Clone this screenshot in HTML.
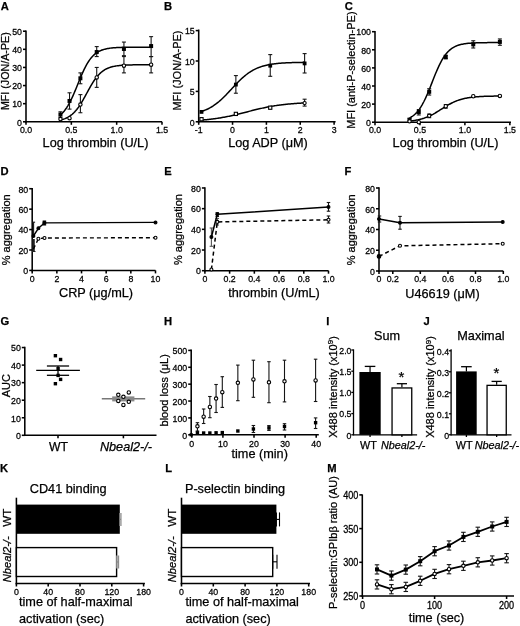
<!DOCTYPE html>
<html><head><meta charset="utf-8"><style>
html,body{margin:0;padding:0;background:#fff;}
svg{display:block;filter:blur(0.3px);}
text{font-family:"Liberation Sans", sans-serif;stroke:#000;stroke-width:0.25px;}
</style></head><body>
<svg width="520" height="626" viewBox="0 0 520 626" font-family='"Liberation Sans", sans-serif'>
<rect width="520" height="626" fill="#fff"/>
<text x="0.80" y="9.73" font-size="11.2" text-anchor="start" font-weight="bold" fill="#000">A</text>
<line x1="26.00" y1="30.62" x2="26.00" y2="122.58" stroke="#000" stroke-width="1.55" stroke-linecap="butt"/>
<line x1="23.00" y1="121.80" x2="26.00" y2="121.80" stroke="#000" stroke-width="1.55" stroke-linecap="butt"/>
<text transform="translate(22.00 125.58) scale(1 1.1)" font-size="8.8" text-anchor="end" stroke-width="0.12">0</text>
<line x1="23.00" y1="103.68" x2="26.00" y2="103.68" stroke="#000" stroke-width="1.55" stroke-linecap="butt"/>
<text transform="translate(22.00 107.46) scale(1 1.1)" font-size="8.8" text-anchor="end" stroke-width="0.12">10</text>
<line x1="23.00" y1="85.56" x2="26.00" y2="85.56" stroke="#000" stroke-width="1.55" stroke-linecap="butt"/>
<text transform="translate(22.00 89.34) scale(1 1.1)" font-size="8.8" text-anchor="end" stroke-width="0.12">20</text>
<line x1="23.00" y1="67.44" x2="26.00" y2="67.44" stroke="#000" stroke-width="1.55" stroke-linecap="butt"/>
<text transform="translate(22.00 71.22) scale(1 1.1)" font-size="8.8" text-anchor="end" stroke-width="0.12">30</text>
<line x1="23.00" y1="49.32" x2="26.00" y2="49.32" stroke="#000" stroke-width="1.55" stroke-linecap="butt"/>
<text transform="translate(22.00 53.10) scale(1 1.1)" font-size="8.8" text-anchor="end" stroke-width="0.12">40</text>
<line x1="23.00" y1="31.20" x2="26.00" y2="31.20" stroke="#000" stroke-width="1.55" stroke-linecap="butt"/>
<text transform="translate(22.00 34.98) scale(1 1.1)" font-size="8.8" text-anchor="end" stroke-width="0.12">50</text>
<line x1="25.23" y1="121.80" x2="162.00" y2="121.80" stroke="#000" stroke-width="1.55" stroke-linecap="butt"/>
<line x1="26.00" y1="121.80" x2="26.00" y2="124.80" stroke="#000" stroke-width="1.55" stroke-linecap="butt"/>
<text transform="translate(26.00 132.58) scale(1 1.1)" font-size="8.8" text-anchor="middle" stroke-width="0.12">0.0</text>
<line x1="71.34" y1="121.80" x2="71.34" y2="124.80" stroke="#000" stroke-width="1.55" stroke-linecap="butt"/>
<text transform="translate(71.34 132.58) scale(1 1.1)" font-size="8.8" text-anchor="middle" stroke-width="0.12">0.5</text>
<line x1="116.67" y1="121.80" x2="116.67" y2="124.80" stroke="#000" stroke-width="1.55" stroke-linecap="butt"/>
<text transform="translate(116.67 132.58) scale(1 1.1)" font-size="8.8" text-anchor="middle" stroke-width="0.12">1.0</text>
<line x1="162.00" y1="121.80" x2="162.00" y2="124.80" stroke="#000" stroke-width="1.55" stroke-linecap="butt"/>
<text transform="translate(162.00 132.58) scale(1 1.1)" font-size="8.8" text-anchor="middle" stroke-width="0.12">1.5</text>
<text x="95.50" y="146.50" font-size="12.7" text-anchor="middle" fill="#000">Log thrombin (U/L)</text>
<text x="9.30" y="71.20" font-size="10.7" text-anchor="middle" transform="rotate(-90 9.3 71.2)" fill="#000">MFI (JON/A-PE)</text>
<polyline points="60.45,114.84 61.36,114.05 62.27,113.18 63.17,112.22 64.08,111.17 64.99,110.04 65.89,108.80 66.80,107.46 67.71,106.03 68.61,104.48 69.52,102.84 70.43,101.10 71.34,99.26 72.24,97.33 73.15,95.32 74.06,93.24 74.96,91.11 75.87,88.92 76.78,86.70 77.68,84.47 78.59,82.24 79.50,80.02 80.40,77.84 81.31,75.70 82.22,73.62 83.12,71.61 84.03,69.69 84.94,67.85 85.84,66.10 86.75,64.46 87.66,62.92 88.56,61.48 89.47,60.15 90.38,58.91 91.28,57.77 92.19,56.73 93.10,55.77 94.00,54.90 94.91,54.10 95.82,53.39 96.72,52.73 97.63,52.15 98.54,51.61 99.44,51.14 100.35,50.71 101.26,50.32 102.16,49.98 103.07,49.67 103.98,49.39 104.88,49.15 105.79,48.93 106.70,48.73 107.60,48.55 108.51,48.40 109.42,48.26 110.32,48.13 111.23,48.02 112.14,47.93 113.04,47.84 113.95,47.76 114.86,47.69 115.76,47.63 116.67,47.58 117.58,47.53 118.48,47.49 119.39,47.45 120.30,47.41 121.20,47.38 122.11,47.36 123.02,47.33 123.92,47.31 124.83,47.29 125.74,47.28 126.64,47.26 127.55,47.25 128.46,47.24 129.36,47.23 130.27,47.22 131.18,47.21 132.08,47.20 132.99,47.20 133.90,47.19 134.80,47.19 135.71,47.18 136.62,47.18 137.52,47.17 138.43,47.17 139.34,47.17 140.24,47.16 141.15,47.16 142.06,47.16 142.96,47.16 143.87,47.16 144.78,47.16 145.68,47.15 146.59,47.15 147.50,47.15 148.40,47.15 149.31,47.15 150.22,47.15 151.12,47.15" fill="none" stroke="#000" stroke-width="1.5" stroke-linejoin="round"/>
<polyline points="60.45,119.97 61.36,119.75 62.27,119.50 63.17,119.23 64.08,118.92 64.99,118.58 65.89,118.21 66.80,117.79 67.71,117.33 68.61,116.82 69.52,116.26 70.43,115.65 71.34,114.97 72.24,114.24 73.15,113.43 74.06,112.56 74.96,111.61 75.87,110.59 76.78,109.50 77.68,108.33 78.59,107.08 79.50,105.76 80.40,104.37 81.31,102.92 82.22,101.41 83.12,99.84 84.03,98.24 84.94,96.60 85.84,94.93 86.75,93.26 87.66,91.59 88.56,89.92 89.47,88.29 90.38,86.68 91.28,85.12 92.19,83.60 93.10,82.15 94.00,80.76 94.91,79.44 95.82,78.20 96.72,77.03 97.63,75.93 98.54,74.91 99.44,73.96 100.35,73.09 101.26,72.29 102.16,71.55 103.07,70.87 103.98,70.26 104.88,69.70 105.79,69.19 106.70,68.73 107.60,68.31 108.51,67.94 109.42,67.60 110.32,67.29 111.23,67.02 112.14,66.78 113.04,66.56 113.95,66.36 114.86,66.18 115.76,66.02 116.67,65.88 117.58,65.76 118.48,65.64 119.39,65.54 120.30,65.45 121.20,65.37 122.11,65.30 123.02,65.24 123.92,65.18 124.83,65.13 125.74,65.09 126.64,65.05 127.55,65.01 128.46,64.98 129.36,64.95 130.27,64.92 131.18,64.90 132.08,64.88 132.99,64.86 133.90,64.85 134.80,64.83 135.71,64.82 136.62,64.81 137.52,64.80 138.43,64.79 139.34,64.78 140.24,64.78 141.15,64.77 142.06,64.77 142.96,64.76 143.87,64.76 144.78,64.75 145.68,64.75 146.59,64.75 147.50,64.74 148.40,64.74 149.31,64.74 150.22,64.74 151.12,64.74" fill="none" stroke="#000" stroke-width="1.5" stroke-linejoin="round"/>
<line x1="60.45" y1="117.27" x2="60.45" y2="111.83" stroke="#151515" stroke-width="1.1" stroke-linecap="butt"/>
<line x1="58.45" y1="117.27" x2="62.45" y2="117.27" stroke="#151515" stroke-width="1.1" stroke-linecap="butt"/>
<line x1="58.45" y1="111.83" x2="62.45" y2="111.83" stroke="#151515" stroke-width="1.1" stroke-linecap="butt"/>
<line x1="69.52" y1="109.12" x2="69.52" y2="92.81" stroke="#151515" stroke-width="1.1" stroke-linecap="butt"/>
<line x1="67.52" y1="109.12" x2="71.52" y2="109.12" stroke="#151515" stroke-width="1.1" stroke-linecap="butt"/>
<line x1="67.52" y1="92.81" x2="71.52" y2="92.81" stroke="#151515" stroke-width="1.1" stroke-linecap="butt"/>
<line x1="80.40" y1="83.75" x2="80.40" y2="72.88" stroke="#151515" stroke-width="1.1" stroke-linecap="butt"/>
<line x1="78.40" y1="83.75" x2="82.40" y2="83.75" stroke="#151515" stroke-width="1.1" stroke-linecap="butt"/>
<line x1="78.40" y1="72.88" x2="82.40" y2="72.88" stroke="#151515" stroke-width="1.1" stroke-linecap="butt"/>
<line x1="96.72" y1="56.57" x2="96.72" y2="46.60" stroke="#151515" stroke-width="1.1" stroke-linecap="butt"/>
<line x1="94.72" y1="56.57" x2="98.72" y2="56.57" stroke="#151515" stroke-width="1.1" stroke-linecap="butt"/>
<line x1="94.72" y1="46.60" x2="98.72" y2="46.60" stroke="#151515" stroke-width="1.1" stroke-linecap="butt"/>
<line x1="123.92" y1="55.66" x2="123.92" y2="42.07" stroke="#151515" stroke-width="1.1" stroke-linecap="butt"/>
<line x1="121.92" y1="55.66" x2="125.92" y2="55.66" stroke="#151515" stroke-width="1.1" stroke-linecap="butt"/>
<line x1="121.92" y1="42.07" x2="125.92" y2="42.07" stroke="#151515" stroke-width="1.1" stroke-linecap="butt"/>
<line x1="151.12" y1="56.57" x2="151.12" y2="36.64" stroke="#151515" stroke-width="1.1" stroke-linecap="butt"/>
<line x1="149.12" y1="56.57" x2="153.12" y2="56.57" stroke="#151515" stroke-width="1.1" stroke-linecap="butt"/>
<line x1="149.12" y1="36.64" x2="153.12" y2="36.64" stroke="#151515" stroke-width="1.1" stroke-linecap="butt"/>
<line x1="80.40" y1="112.74" x2="80.40" y2="94.62" stroke="#151515" stroke-width="1.1" stroke-linecap="butt"/>
<line x1="78.40" y1="112.74" x2="82.40" y2="112.74" stroke="#151515" stroke-width="1.1" stroke-linecap="butt"/>
<line x1="78.40" y1="94.62" x2="82.40" y2="94.62" stroke="#151515" stroke-width="1.1" stroke-linecap="butt"/>
<line x1="96.72" y1="87.37" x2="96.72" y2="67.44" stroke="#151515" stroke-width="1.1" stroke-linecap="butt"/>
<line x1="94.72" y1="87.37" x2="98.72" y2="87.37" stroke="#151515" stroke-width="1.1" stroke-linecap="butt"/>
<line x1="94.72" y1="67.44" x2="98.72" y2="67.44" stroke="#151515" stroke-width="1.1" stroke-linecap="butt"/>
<line x1="123.92" y1="72.88" x2="123.92" y2="56.57" stroke="#151515" stroke-width="1.1" stroke-linecap="butt"/>
<line x1="121.92" y1="72.88" x2="125.92" y2="72.88" stroke="#151515" stroke-width="1.1" stroke-linecap="butt"/>
<line x1="121.92" y1="56.57" x2="125.92" y2="56.57" stroke="#151515" stroke-width="1.1" stroke-linecap="butt"/>
<line x1="151.12" y1="72.88" x2="151.12" y2="56.57" stroke="#151515" stroke-width="1.1" stroke-linecap="butt"/>
<line x1="149.12" y1="72.88" x2="153.12" y2="72.88" stroke="#151515" stroke-width="1.1" stroke-linecap="butt"/>
<line x1="149.12" y1="56.57" x2="153.12" y2="56.57" stroke="#151515" stroke-width="1.1" stroke-linecap="butt"/>
<rect x="58.45" y="112.55" width="4.00" height="4.00" fill="#000"/>
<rect x="67.52" y="98.96" width="4.00" height="4.00" fill="#000"/>
<rect x="78.40" y="76.31" width="4.00" height="4.00" fill="#000"/>
<rect x="94.72" y="50.04" width="4.00" height="4.00" fill="#000"/>
<rect x="121.92" y="46.96" width="4.00" height="4.00" fill="#000"/>
<rect x="149.12" y="44.06" width="4.00" height="4.00" fill="#000"/>
<circle cx="60.45" cy="119.08" r="1.70" fill="#fff" stroke="#000" stroke-width="1.1"/>
<circle cx="69.52" cy="118.18" r="1.70" fill="#fff" stroke="#000" stroke-width="1.1"/>
<circle cx="80.40" cy="104.59" r="1.70" fill="#fff" stroke="#000" stroke-width="1.1"/>
<circle cx="96.72" cy="77.41" r="1.70" fill="#fff" stroke="#000" stroke-width="1.1"/>
<circle cx="123.92" cy="65.63" r="1.70" fill="#fff" stroke="#000" stroke-width="1.1"/>
<circle cx="151.12" cy="64.72" r="1.70" fill="#fff" stroke="#000" stroke-width="1.1"/>
<text x="164.00" y="9.83" font-size="11.2" text-anchor="start" font-weight="bold" fill="#000">B</text>
<line x1="198.70" y1="29.53" x2="198.70" y2="122.58" stroke="#000" stroke-width="1.55" stroke-linecap="butt"/>
<line x1="195.70" y1="121.80" x2="198.70" y2="121.80" stroke="#000" stroke-width="1.55" stroke-linecap="butt"/>
<text transform="translate(194.70 125.58) scale(1 1.1)" font-size="8.8" text-anchor="end" stroke-width="0.12">0</text>
<line x1="195.70" y1="91.40" x2="198.70" y2="91.40" stroke="#000" stroke-width="1.55" stroke-linecap="butt"/>
<text transform="translate(194.70 95.18) scale(1 1.1)" font-size="8.8" text-anchor="end" stroke-width="0.12">5</text>
<line x1="195.70" y1="61.00" x2="198.70" y2="61.00" stroke="#000" stroke-width="1.55" stroke-linecap="butt"/>
<text transform="translate(194.70 64.78) scale(1 1.1)" font-size="8.8" text-anchor="end" stroke-width="0.12">10</text>
<line x1="195.70" y1="30.60" x2="198.70" y2="30.60" stroke="#000" stroke-width="1.55" stroke-linecap="butt"/>
<text transform="translate(194.70 34.38) scale(1 1.1)" font-size="8.8" text-anchor="end" stroke-width="0.12">15</text>
<line x1="197.92" y1="121.80" x2="335.60" y2="121.80" stroke="#000" stroke-width="1.55" stroke-linecap="butt"/>
<line x1="198.70" y1="121.80" x2="198.70" y2="124.80" stroke="#000" stroke-width="1.55" stroke-linecap="butt"/>
<text transform="translate(198.70 132.58) scale(1 1.1)" font-size="8.8" text-anchor="middle" stroke-width="0.12">-1</text>
<line x1="232.55" y1="121.80" x2="232.55" y2="124.80" stroke="#000" stroke-width="1.55" stroke-linecap="butt"/>
<text transform="translate(232.55 132.58) scale(1 1.1)" font-size="8.8" text-anchor="middle" stroke-width="0.12">0</text>
<line x1="266.40" y1="121.80" x2="266.40" y2="124.80" stroke="#000" stroke-width="1.55" stroke-linecap="butt"/>
<text transform="translate(266.40 132.58) scale(1 1.1)" font-size="8.8" text-anchor="middle" stroke-width="0.12">1</text>
<line x1="300.25" y1="121.80" x2="300.25" y2="124.80" stroke="#000" stroke-width="1.55" stroke-linecap="butt"/>
<text transform="translate(300.25 132.58) scale(1 1.1)" font-size="8.8" text-anchor="middle" stroke-width="0.12">2</text>
<line x1="334.10" y1="121.80" x2="334.10" y2="124.80" stroke="#000" stroke-width="1.55" stroke-linecap="butt"/>
<text transform="translate(334.10 132.58) scale(1 1.1)" font-size="8.8" text-anchor="middle" stroke-width="0.12">3</text>
<text x="268.00" y="146.50" font-size="12.7" text-anchor="middle" fill="#000">Log ADP (μM)</text>
<text x="181.20" y="70.50" font-size="11.0" text-anchor="middle" transform="rotate(-90 181.2 70.5)" fill="#000">MFI (JON/A-PE)</text>
<polyline points="201.50,111.42 202.53,111.08 203.56,110.71 204.59,110.32 205.62,109.90 206.66,109.45 207.69,108.98 208.72,108.47 209.75,107.93 210.78,107.35 211.81,106.75 212.84,106.11 213.87,105.43 214.90,104.72 215.94,103.97 216.97,103.18 218.00,102.36 219.03,101.51 220.06,100.62 221.09,99.70 222.12,98.74 223.15,97.76 224.18,96.75 225.22,95.71 226.25,94.66 227.28,93.58 228.31,92.49 229.34,91.38 230.37,90.27 231.40,89.15 232.43,88.04 233.46,86.92 234.50,85.82 235.53,84.72 236.56,83.64 237.59,82.57 238.62,81.53 239.65,80.51 240.68,79.52 241.71,78.55 242.74,77.62 243.78,76.72 244.81,75.85 245.84,75.02 246.87,74.23 247.90,73.47 248.93,72.74 249.96,72.05 250.99,71.40 252.02,70.78 253.06,70.20 254.09,69.64 255.12,69.13 256.15,68.64 257.18,68.18 258.21,67.75 259.24,67.35 260.27,66.98 261.30,66.63 262.33,66.30 263.37,65.99 264.40,65.71 265.43,65.45 266.46,65.20 267.49,64.98 268.52,64.77 269.55,64.57 270.58,64.39 271.61,64.22 272.65,64.07 273.68,63.92 274.71,63.79 275.74,63.67 276.77,63.55 277.80,63.45 278.83,63.35 279.86,63.26 280.89,63.18 281.93,63.10 282.96,63.03 283.99,62.97 285.02,62.91 286.05,62.85 287.08,62.80 288.11,62.76 289.14,62.71 290.17,62.67 291.21,62.64 292.24,62.60 293.27,62.57 294.30,62.55 295.33,62.52 296.36,62.49 297.39,62.47 298.42,62.45 299.45,62.43 300.49,62.42 301.52,62.40 302.55,62.39 303.58,62.37 304.61,62.36" fill="none" stroke="#000" stroke-width="1.5" stroke-linejoin="round"/>
<polyline points="201.50,120.11 202.53,120.03 203.56,119.94 204.59,119.85 205.62,119.75 206.66,119.65 207.69,119.54 208.72,119.43 209.75,119.32 210.78,119.20 211.81,119.07 212.84,118.94 213.87,118.81 214.90,118.67 215.94,118.53 216.97,118.38 218.00,118.22 219.03,118.06 220.06,117.89 221.09,117.72 222.12,117.55 223.15,117.36 224.18,117.17 225.22,116.98 226.25,116.78 227.28,116.58 228.31,116.37 229.34,116.15 230.37,115.93 231.40,115.71 232.43,115.48 233.46,115.25 234.50,115.01 235.53,114.77 236.56,114.52 237.59,114.27 238.62,114.02 239.65,113.76 240.68,113.50 241.71,113.24 242.74,112.98 243.78,112.72 244.81,112.45 245.84,112.19 246.87,111.92 247.90,111.65 248.93,111.39 249.96,111.12 250.99,110.86 252.02,110.60 253.06,110.34 254.09,110.08 255.12,109.82 256.15,109.57 257.18,109.32 258.21,109.07 259.24,108.83 260.27,108.59 261.30,108.36 262.33,108.13 263.37,107.91 264.40,107.69 265.43,107.47 266.46,107.26 267.49,107.06 268.52,106.86 269.55,106.67 270.58,106.48 271.61,106.29 272.65,106.12 273.68,105.95 274.71,105.78 275.74,105.62 276.77,105.46 277.80,105.31 278.83,105.17 279.86,105.03 280.89,104.90 281.93,104.77 282.96,104.64 283.99,104.52 285.02,104.41 286.05,104.30 287.08,104.19 288.11,104.09 289.14,103.99 290.17,103.90 291.21,103.81 292.24,103.73 293.27,103.65 294.30,103.57 295.33,103.49 296.36,103.42 297.39,103.36 298.42,103.29 299.45,103.23 300.49,103.17 301.52,103.11 302.55,103.06 303.58,103.01 304.61,102.96" fill="none" stroke="#000" stroke-width="1.5" stroke-linejoin="round"/>
<line x1="235.87" y1="75.59" x2="235.87" y2="93.22" stroke="#151515" stroke-width="1.1" stroke-linecap="butt"/>
<line x1="233.87" y1="75.59" x2="237.87" y2="75.59" stroke="#151515" stroke-width="1.1" stroke-linecap="butt"/>
<line x1="233.87" y1="93.22" x2="237.87" y2="93.22" stroke="#151515" stroke-width="1.1" stroke-linecap="butt"/>
<line x1="270.24" y1="54.60" x2="270.24" y2="76.30" stroke="#151515" stroke-width="1.1" stroke-linecap="butt"/>
<line x1="268.24" y1="54.60" x2="272.24" y2="54.60" stroke="#151515" stroke-width="1.1" stroke-linecap="butt"/>
<line x1="268.24" y1="76.30" x2="272.24" y2="76.30" stroke="#151515" stroke-width="1.1" stroke-linecap="butt"/>
<line x1="304.61" y1="53.60" x2="304.61" y2="73.00" stroke="#151515" stroke-width="1.1" stroke-linecap="butt"/>
<line x1="302.61" y1="53.60" x2="306.61" y2="53.60" stroke="#151515" stroke-width="1.1" stroke-linecap="butt"/>
<line x1="302.61" y1="73.00" x2="306.61" y2="73.00" stroke="#151515" stroke-width="1.1" stroke-linecap="butt"/>
<line x1="304.61" y1="99.20" x2="304.61" y2="106.10" stroke="#151515" stroke-width="1.1" stroke-linecap="butt"/>
<line x1="302.61" y1="99.20" x2="306.61" y2="99.20" stroke="#151515" stroke-width="1.1" stroke-linecap="butt"/>
<line x1="302.61" y1="106.10" x2="306.61" y2="106.10" stroke="#151515" stroke-width="1.1" stroke-linecap="butt"/>
<rect x="199.60" y="110.00" width="3.80" height="3.80" fill="#000"/>
<rect x="233.97" y="82.70" width="3.80" height="3.80" fill="#000"/>
<rect x="268.34" y="63.80" width="3.80" height="3.80" fill="#000"/>
<rect x="302.71" y="61.50" width="3.80" height="3.80" fill="#000"/>
<rect x="199.90" y="117.60" width="3.20" height="3.20" fill="#fff" stroke="#000" stroke-width="1.1"/>
<rect x="234.27" y="112.30" width="3.20" height="3.20" fill="#fff" stroke="#000" stroke-width="1.1"/>
<rect x="268.64" y="106.10" width="3.20" height="3.20" fill="#fff" stroke="#000" stroke-width="1.1"/>
<circle cx="304.61" cy="103.10" r="1.60" fill="#fff" stroke="#000" stroke-width="1.1"/>
<text x="344.80" y="9.73" font-size="11.2" text-anchor="start" font-weight="bold" fill="#000">C</text>
<line x1="375.00" y1="30.93" x2="375.00" y2="122.98" stroke="#000" stroke-width="1.55" stroke-linecap="butt"/>
<line x1="372.00" y1="122.20" x2="375.00" y2="122.20" stroke="#000" stroke-width="1.55" stroke-linecap="butt"/>
<text transform="translate(371.00 125.98) scale(1 1.1)" font-size="8.8" text-anchor="end" stroke-width="0.12">0</text>
<line x1="372.00" y1="104.10" x2="375.00" y2="104.10" stroke="#000" stroke-width="1.55" stroke-linecap="butt"/>
<text transform="translate(371.00 107.88) scale(1 1.1)" font-size="8.8" text-anchor="end" stroke-width="0.12">20</text>
<line x1="372.00" y1="86.00" x2="375.00" y2="86.00" stroke="#000" stroke-width="1.55" stroke-linecap="butt"/>
<text transform="translate(371.00 89.78) scale(1 1.1)" font-size="8.8" text-anchor="end" stroke-width="0.12">40</text>
<line x1="372.00" y1="67.90" x2="375.00" y2="67.90" stroke="#000" stroke-width="1.55" stroke-linecap="butt"/>
<text transform="translate(371.00 71.68) scale(1 1.1)" font-size="8.8" text-anchor="end" stroke-width="0.12">60</text>
<line x1="372.00" y1="49.80" x2="375.00" y2="49.80" stroke="#000" stroke-width="1.55" stroke-linecap="butt"/>
<text transform="translate(371.00 53.58) scale(1 1.1)" font-size="8.8" text-anchor="end" stroke-width="0.12">80</text>
<line x1="372.00" y1="31.70" x2="375.00" y2="31.70" stroke="#000" stroke-width="1.55" stroke-linecap="butt"/>
<text transform="translate(371.00 35.48) scale(1 1.1)" font-size="8.8" text-anchor="end" stroke-width="0.12">100</text>
<line x1="374.23" y1="122.20" x2="511.00" y2="122.20" stroke="#000" stroke-width="1.55" stroke-linecap="butt"/>
<line x1="375.00" y1="122.20" x2="375.00" y2="125.20" stroke="#000" stroke-width="1.55" stroke-linecap="butt"/>
<text transform="translate(375.00 132.98) scale(1 1.1)" font-size="8.8" text-anchor="middle" stroke-width="0.12">0.0</text>
<line x1="419.95" y1="122.20" x2="419.95" y2="125.20" stroke="#000" stroke-width="1.55" stroke-linecap="butt"/>
<text transform="translate(419.95 132.98) scale(1 1.1)" font-size="8.8" text-anchor="middle" stroke-width="0.12">0.5</text>
<line x1="464.90" y1="122.20" x2="464.90" y2="125.20" stroke="#000" stroke-width="1.55" stroke-linecap="butt"/>
<text transform="translate(464.90 132.98) scale(1 1.1)" font-size="8.8" text-anchor="middle" stroke-width="0.12">1.0</text>
<line x1="509.85" y1="122.20" x2="509.85" y2="125.20" stroke="#000" stroke-width="1.55" stroke-linecap="butt"/>
<text transform="translate(509.85 132.98) scale(1 1.1)" font-size="8.8" text-anchor="middle" stroke-width="0.12">1.5</text>
<text x="445.50" y="146.80" font-size="12.7" text-anchor="middle" fill="#000">Log thrombin (U/L)</text>
<text x="354.70" y="70.10" font-size="11.0" text-anchor="middle" transform="rotate(-90 354.7 70.1)" fill="#000">MFI (anti-P-selectin-PE)</text>
<polyline points="409.52,118.01 410.42,117.52 411.32,116.99 412.22,116.40 413.12,115.75 414.02,115.04 414.92,114.25 415.81,113.39 416.71,112.44 417.61,111.41 418.51,110.29 419.41,109.08 420.31,107.77 421.21,106.36 422.11,104.85 423.01,103.23 423.91,101.52 424.80,99.71 425.70,97.81 426.60,95.81 427.50,93.75 428.40,91.61 429.30,89.41 430.20,87.17 431.10,84.90 432.00,82.61 432.90,80.32 433.79,78.04 434.69,75.79 435.59,73.59 436.49,71.44 437.39,69.35 438.29,67.35 439.19,65.42 440.09,63.59 440.99,61.86 441.89,60.23 442.78,58.70 443.68,57.27 444.58,55.93 445.48,54.70 446.38,53.56 447.28,52.52 448.18,51.56 449.08,50.68 449.98,49.88 450.88,49.15 451.77,48.48 452.67,47.88 453.57,47.34 454.47,46.85 455.37,46.40 456.27,46.00 457.17,45.64 458.07,45.32 458.97,45.03 459.87,44.77 460.76,44.53 461.66,44.32 462.56,44.14 463.46,43.97 464.36,43.82 465.26,43.68 466.16,43.56 467.06,43.45 467.96,43.36 468.86,43.27 469.75,43.19 470.65,43.13 471.55,43.07 472.45,43.01 473.35,42.96 474.25,42.92 475.15,42.88 476.05,42.84 476.95,42.81 477.85,42.79 478.74,42.76 479.64,42.74 480.54,42.72 481.44,42.70 482.34,42.69 483.24,42.67 484.14,42.66 485.04,42.65 485.94,42.64 486.84,42.63 487.73,42.62 488.63,42.62 489.53,42.61 490.43,42.61 491.33,42.60 492.23,42.60 493.13,42.59 494.03,42.59 494.93,42.59 495.83,42.58 496.72,42.58 497.62,42.58 498.52,42.58 499.42,42.57" fill="none" stroke="#000" stroke-width="1.5" stroke-linejoin="round"/>
<polyline points="409.52,121.08 410.42,120.99 411.32,120.88 412.22,120.77 413.12,120.65 414.02,120.51 414.92,120.37 415.81,120.21 416.71,120.05 417.61,119.87 418.51,119.67 419.41,119.47 420.31,119.25 421.21,119.01 422.11,118.76 423.01,118.48 423.91,118.20 424.80,117.89 425.70,117.57 426.60,117.22 427.50,116.86 428.40,116.48 429.30,116.08 430.20,115.66 431.10,115.22 432.00,114.76 432.90,114.29 433.79,113.79 434.69,113.29 435.59,112.76 436.49,112.23 437.39,111.68 438.29,111.13 439.19,110.56 440.09,109.99 440.99,109.42 441.89,108.85 442.78,108.27 443.68,107.70 444.58,107.14 445.48,106.58 446.38,106.03 447.28,105.50 448.18,104.97 449.08,104.46 449.98,103.97 450.88,103.49 451.77,103.03 452.67,102.58 453.57,102.16 454.47,101.75 455.37,101.37 456.27,101.00 457.17,100.66 458.07,100.33 458.97,100.02 459.87,99.73 460.76,99.45 461.66,99.20 462.56,98.96 463.46,98.73 464.36,98.52 465.26,98.32 466.16,98.14 467.06,97.97 467.96,97.82 468.86,97.67 469.75,97.54 470.65,97.41 471.55,97.29 472.45,97.19 473.35,97.09 474.25,97.00 475.15,96.91 476.05,96.84 476.95,96.76 477.85,96.70 478.74,96.64 479.64,96.58 480.54,96.53 481.44,96.48 482.34,96.44 483.24,96.40 484.14,96.36 485.04,96.33 485.94,96.30 486.84,96.27 487.73,96.24 488.63,96.22 489.53,96.20 490.43,96.18 491.33,96.16 492.23,96.14 493.13,96.13 494.03,96.11 494.93,96.10 495.83,96.09 496.72,96.08 497.62,96.07 498.52,96.06 499.42,96.05" fill="none" stroke="#000" stroke-width="1.5" stroke-linejoin="round"/>
<line x1="409.52" y1="122.20" x2="409.52" y2="118.13" stroke="#151515" stroke-width="1.1" stroke-linecap="butt"/>
<line x1="407.52" y1="122.20" x2="411.52" y2="122.20" stroke="#151515" stroke-width="1.1" stroke-linecap="butt"/>
<line x1="407.52" y1="118.13" x2="411.52" y2="118.13" stroke="#151515" stroke-width="1.1" stroke-linecap="butt"/>
<line x1="418.78" y1="114.96" x2="418.78" y2="109.53" stroke="#151515" stroke-width="1.1" stroke-linecap="butt"/>
<line x1="416.78" y1="114.96" x2="420.78" y2="114.96" stroke="#151515" stroke-width="1.1" stroke-linecap="butt"/>
<line x1="416.78" y1="109.53" x2="420.78" y2="109.53" stroke="#151515" stroke-width="1.1" stroke-linecap="butt"/>
<line x1="429.21" y1="95.05" x2="429.21" y2="88.72" stroke="#151515" stroke-width="1.1" stroke-linecap="butt"/>
<line x1="427.21" y1="95.05" x2="431.21" y2="95.05" stroke="#151515" stroke-width="1.1" stroke-linecap="butt"/>
<line x1="427.21" y1="88.72" x2="431.21" y2="88.72" stroke="#151515" stroke-width="1.1" stroke-linecap="butt"/>
<line x1="445.75" y1="58.85" x2="445.75" y2="55.23" stroke="#151515" stroke-width="1.1" stroke-linecap="butt"/>
<line x1="443.75" y1="58.85" x2="447.75" y2="58.85" stroke="#151515" stroke-width="1.1" stroke-linecap="butt"/>
<line x1="443.75" y1="55.23" x2="447.75" y2="55.23" stroke="#151515" stroke-width="1.1" stroke-linecap="butt"/>
<line x1="473.26" y1="47.99" x2="473.26" y2="40.75" stroke="#151515" stroke-width="1.1" stroke-linecap="butt"/>
<line x1="471.26" y1="47.99" x2="475.26" y2="47.99" stroke="#151515" stroke-width="1.1" stroke-linecap="butt"/>
<line x1="471.26" y1="40.75" x2="475.26" y2="40.75" stroke="#151515" stroke-width="1.1" stroke-linecap="butt"/>
<line x1="499.87" y1="45.28" x2="499.87" y2="38.94" stroke="#151515" stroke-width="1.1" stroke-linecap="butt"/>
<line x1="497.87" y1="45.28" x2="501.87" y2="45.28" stroke="#151515" stroke-width="1.1" stroke-linecap="butt"/>
<line x1="497.87" y1="38.94" x2="501.87" y2="38.94" stroke="#151515" stroke-width="1.1" stroke-linecap="butt"/>
<line x1="429.21" y1="117.67" x2="429.21" y2="114.06" stroke="#151515" stroke-width="1.1" stroke-linecap="butt"/>
<line x1="427.21" y1="117.67" x2="431.21" y2="117.67" stroke="#151515" stroke-width="1.1" stroke-linecap="butt"/>
<line x1="427.21" y1="114.06" x2="431.21" y2="114.06" stroke="#151515" stroke-width="1.1" stroke-linecap="butt"/>
<line x1="445.75" y1="108.17" x2="445.75" y2="104.55" stroke="#151515" stroke-width="1.1" stroke-linecap="butt"/>
<line x1="443.75" y1="108.17" x2="447.75" y2="108.17" stroke="#151515" stroke-width="1.1" stroke-linecap="butt"/>
<line x1="443.75" y1="104.55" x2="447.75" y2="104.55" stroke="#151515" stroke-width="1.1" stroke-linecap="butt"/>
<rect x="407.52" y="118.03" width="4.00" height="4.00" fill="#000"/>
<rect x="416.78" y="109.97" width="4.00" height="4.00" fill="#000"/>
<rect x="427.21" y="89.79" width="4.00" height="4.00" fill="#000"/>
<rect x="443.75" y="55.04" width="4.00" height="4.00" fill="#000"/>
<rect x="471.26" y="42.37" width="4.00" height="4.00" fill="#000"/>
<rect x="497.87" y="39.93" width="4.00" height="4.00" fill="#000"/>
<circle cx="409.52" cy="121.30" r="1.70" fill="#fff" stroke="#000" stroke-width="1.1"/>
<circle cx="418.78" cy="122.20" r="1.70" fill="#fff" stroke="#000" stroke-width="1.1"/>
<circle cx="429.21" cy="115.87" r="1.70" fill="#fff" stroke="#000" stroke-width="1.1"/>
<circle cx="445.75" cy="106.27" r="1.70" fill="#fff" stroke="#000" stroke-width="1.1"/>
<circle cx="473.26" cy="96.23" r="1.70" fill="#fff" stroke="#000" stroke-width="1.1"/>
<circle cx="499.87" cy="95.95" r="1.70" fill="#fff" stroke="#000" stroke-width="1.1"/>
<text x="0.60" y="175.43" font-size="11.2" text-anchor="start" font-weight="bold" fill="#000">D</text>
<line x1="32.20" y1="187.92" x2="32.20" y2="271.17" stroke="#000" stroke-width="1.55" stroke-linecap="butt"/>
<line x1="29.20" y1="270.40" x2="32.20" y2="270.40" stroke="#000" stroke-width="1.55" stroke-linecap="butt"/>
<text transform="translate(28.20 274.18) scale(1 1.1)" font-size="8.8" text-anchor="end" stroke-width="0.12">0</text>
<line x1="29.20" y1="249.98" x2="32.20" y2="249.98" stroke="#000" stroke-width="1.55" stroke-linecap="butt"/>
<text transform="translate(28.20 253.76) scale(1 1.1)" font-size="8.8" text-anchor="end" stroke-width="0.12">20</text>
<line x1="29.20" y1="229.56" x2="32.20" y2="229.56" stroke="#000" stroke-width="1.55" stroke-linecap="butt"/>
<text transform="translate(28.20 233.34) scale(1 1.1)" font-size="8.8" text-anchor="end" stroke-width="0.12">40</text>
<line x1="29.20" y1="209.14" x2="32.20" y2="209.14" stroke="#000" stroke-width="1.55" stroke-linecap="butt"/>
<text transform="translate(28.20 212.92) scale(1 1.1)" font-size="8.8" text-anchor="end" stroke-width="0.12">60</text>
<line x1="29.20" y1="188.72" x2="32.20" y2="188.72" stroke="#000" stroke-width="1.55" stroke-linecap="butt"/>
<text transform="translate(28.20 192.50) scale(1 1.1)" font-size="8.8" text-anchor="end" stroke-width="0.12">80</text>
<line x1="31.43" y1="270.40" x2="155.50" y2="270.40" stroke="#000" stroke-width="1.55" stroke-linecap="butt"/>
<line x1="32.20" y1="270.40" x2="32.20" y2="273.40" stroke="#000" stroke-width="1.55" stroke-linecap="butt"/>
<text transform="translate(32.20 281.88) scale(1 1.1)" font-size="8.8" text-anchor="middle" stroke-width="0.12">0</text>
<line x1="56.86" y1="270.40" x2="56.86" y2="273.40" stroke="#000" stroke-width="1.55" stroke-linecap="butt"/>
<text transform="translate(56.86 281.88) scale(1 1.1)" font-size="8.8" text-anchor="middle" stroke-width="0.12">2</text>
<line x1="81.52" y1="270.40" x2="81.52" y2="273.40" stroke="#000" stroke-width="1.55" stroke-linecap="butt"/>
<text transform="translate(81.52 281.88) scale(1 1.1)" font-size="8.8" text-anchor="middle" stroke-width="0.12">4</text>
<line x1="106.18" y1="270.40" x2="106.18" y2="273.40" stroke="#000" stroke-width="1.55" stroke-linecap="butt"/>
<text transform="translate(106.18 281.88) scale(1 1.1)" font-size="8.8" text-anchor="middle" stroke-width="0.12">6</text>
<line x1="130.84" y1="270.40" x2="130.84" y2="273.40" stroke="#000" stroke-width="1.55" stroke-linecap="butt"/>
<text transform="translate(130.84 281.88) scale(1 1.1)" font-size="8.8" text-anchor="middle" stroke-width="0.12">8</text>
<line x1="155.50" y1="270.40" x2="155.50" y2="273.40" stroke="#000" stroke-width="1.55" stroke-linecap="butt"/>
<text transform="translate(155.50 281.88) scale(1 1.1)" font-size="8.8" text-anchor="middle" stroke-width="0.12">10</text>
<text x="96.00" y="297.10" font-size="12.7" text-anchor="middle" fill="#000">CRP (μg/mL)</text>
<text x="10.20" y="229.80" font-size="11.0" text-anchor="middle" transform="rotate(-90 10.2 229.8)" fill="#000">% aggregation</text>
<line x1="33.60" y1="222.20" x2="33.60" y2="236.00" stroke="#151515" stroke-width="1.1" stroke-linecap="butt"/>
<line x1="32.10" y1="222.20" x2="35.10" y2="222.20" stroke="#151515" stroke-width="1.1" stroke-linecap="butt"/>
<line x1="32.10" y1="236.00" x2="35.10" y2="236.00" stroke="#151515" stroke-width="1.1" stroke-linecap="butt"/>
<line x1="44.40" y1="221.00" x2="44.40" y2="225.00" stroke="#151515" stroke-width="1.1" stroke-linecap="butt"/>
<line x1="42.65" y1="221.00" x2="46.15" y2="221.00" stroke="#151515" stroke-width="1.1" stroke-linecap="butt"/>
<line x1="42.65" y1="225.00" x2="46.15" y2="225.00" stroke="#151515" stroke-width="1.1" stroke-linecap="butt"/>
<line x1="33.60" y1="239.00" x2="33.60" y2="252.00" stroke="#222" stroke-width="2.4" stroke-linecap="butt"/>
<line x1="32.00" y1="251.50" x2="35.50" y2="251.50" stroke="#222" stroke-width="1.0" stroke-linecap="butt"/>
<polyline points="33.40,236.00 38.40,228.30 44.40,222.90 155.50,222.40" fill="none" stroke="#000" stroke-width="1.4" stroke-linejoin="round"/>
<polyline points="33.40,249.00 38.40,238.70 44.50,238.00 155.50,237.70" fill="none" stroke="#000" stroke-width="1.4" stroke-linejoin="round" stroke-dasharray="4,3"/>
<circle cx="38.40" cy="228.30" r="1.45" fill="#000" stroke="#000" stroke-width="1.1"/>
<circle cx="44.40" cy="222.90" r="1.45" fill="#000" stroke="#000" stroke-width="1.1"/>
<circle cx="155.50" cy="222.40" r="1.45" fill="#000" stroke="#000" stroke-width="1.1"/>
<rect x="42.70" y="221.20" width="3.40" height="3.40" fill="#000"/>
<circle cx="33.40" cy="236.00" r="1.40" fill="#000" stroke="#000" stroke-width="1.1"/>
<circle cx="38.40" cy="238.70" r="1.50" fill="#fff" stroke="#000" stroke-width="1.1"/>
<circle cx="44.50" cy="238.00" r="1.50" fill="#fff" stroke="#000" stroke-width="1.1"/>
<circle cx="155.50" cy="237.70" r="1.50" fill="#fff" stroke="#000" stroke-width="1.1"/>
<text x="164.20" y="175.43" font-size="11.2" text-anchor="start" font-weight="bold" fill="#000">E</text>
<line x1="204.90" y1="187.22" x2="204.90" y2="271.47" stroke="#000" stroke-width="1.55" stroke-linecap="butt"/>
<line x1="201.90" y1="270.70" x2="204.90" y2="270.70" stroke="#000" stroke-width="1.55" stroke-linecap="butt"/>
<text transform="translate(200.90 274.48) scale(1 1.1)" font-size="8.8" text-anchor="end" stroke-width="0.12">0</text>
<line x1="201.90" y1="250.02" x2="204.90" y2="250.02" stroke="#000" stroke-width="1.55" stroke-linecap="butt"/>
<text transform="translate(200.90 253.80) scale(1 1.1)" font-size="8.8" text-anchor="end" stroke-width="0.12">20</text>
<line x1="201.90" y1="229.34" x2="204.90" y2="229.34" stroke="#000" stroke-width="1.55" stroke-linecap="butt"/>
<text transform="translate(200.90 233.12) scale(1 1.1)" font-size="8.8" text-anchor="end" stroke-width="0.12">40</text>
<line x1="201.90" y1="208.66" x2="204.90" y2="208.66" stroke="#000" stroke-width="1.55" stroke-linecap="butt"/>
<text transform="translate(200.90 212.44) scale(1 1.1)" font-size="8.8" text-anchor="end" stroke-width="0.12">60</text>
<line x1="201.90" y1="187.98" x2="204.90" y2="187.98" stroke="#000" stroke-width="1.55" stroke-linecap="butt"/>
<text transform="translate(200.90 191.76) scale(1 1.1)" font-size="8.8" text-anchor="end" stroke-width="0.12">80</text>
<line x1="204.12" y1="270.70" x2="328.50" y2="270.70" stroke="#000" stroke-width="1.55" stroke-linecap="butt"/>
<line x1="204.90" y1="270.70" x2="204.90" y2="273.70" stroke="#000" stroke-width="1.55" stroke-linecap="butt"/>
<text transform="translate(204.90 281.98) scale(1 1.1)" font-size="8.8" text-anchor="middle" stroke-width="0.12">0</text>
<line x1="229.62" y1="270.70" x2="229.62" y2="273.70" stroke="#000" stroke-width="1.55" stroke-linecap="butt"/>
<text transform="translate(229.62 281.98) scale(1 1.1)" font-size="8.8" text-anchor="middle" stroke-width="0.12">0.2</text>
<line x1="254.34" y1="270.70" x2="254.34" y2="273.70" stroke="#000" stroke-width="1.55" stroke-linecap="butt"/>
<text transform="translate(254.34 281.98) scale(1 1.1)" font-size="8.8" text-anchor="middle" stroke-width="0.12">0.4</text>
<line x1="279.06" y1="270.70" x2="279.06" y2="273.70" stroke="#000" stroke-width="1.55" stroke-linecap="butt"/>
<text transform="translate(279.06 281.98) scale(1 1.1)" font-size="8.8" text-anchor="middle" stroke-width="0.12">0.6</text>
<line x1="303.78" y1="270.70" x2="303.78" y2="273.70" stroke="#000" stroke-width="1.55" stroke-linecap="butt"/>
<text transform="translate(303.78 281.98) scale(1 1.1)" font-size="8.8" text-anchor="middle" stroke-width="0.12">0.8</text>
<line x1="328.50" y1="270.70" x2="328.50" y2="273.70" stroke="#000" stroke-width="1.55" stroke-linecap="butt"/>
<text transform="translate(328.50 281.98) scale(1 1.1)" font-size="8.8" text-anchor="middle" stroke-width="0.12">1.0</text>
<text x="274.00" y="296.90" font-size="12.7" text-anchor="middle" fill="#000">thrombin (U/mL)</text>
<text x="182.30" y="229.50" font-size="11.0" text-anchor="middle" transform="rotate(-90 182.3 229.5)" fill="#000">% aggregation</text>
<line x1="211.40" y1="228.00" x2="211.40" y2="246.30" stroke="#555" stroke-width="1.1" stroke-linecap="butt"/>
<line x1="209.65" y1="228.00" x2="213.15" y2="228.00" stroke="#555" stroke-width="1.1" stroke-linecap="butt"/>
<line x1="209.65" y1="246.30" x2="213.15" y2="246.30" stroke="#555" stroke-width="1.1" stroke-linecap="butt"/>
<line x1="217.30" y1="212.70" x2="217.30" y2="216.50" stroke="#151515" stroke-width="1.1" stroke-linecap="butt"/>
<line x1="215.55" y1="212.70" x2="219.05" y2="212.70" stroke="#151515" stroke-width="1.1" stroke-linecap="butt"/>
<line x1="215.55" y1="216.50" x2="219.05" y2="216.50" stroke="#151515" stroke-width="1.1" stroke-linecap="butt"/>
<line x1="217.30" y1="218.50" x2="217.30" y2="225.00" stroke="#555" stroke-width="1.1" stroke-linecap="butt"/>
<line x1="215.55" y1="218.50" x2="219.05" y2="218.50" stroke="#555" stroke-width="1.1" stroke-linecap="butt"/>
<line x1="215.55" y1="225.00" x2="219.05" y2="225.00" stroke="#555" stroke-width="1.1" stroke-linecap="butt"/>
<line x1="328.50" y1="202.50" x2="328.50" y2="211.20" stroke="#151515" stroke-width="1.1" stroke-linecap="butt"/>
<line x1="326.75" y1="202.50" x2="330.25" y2="202.50" stroke="#151515" stroke-width="1.1" stroke-linecap="butt"/>
<line x1="326.75" y1="211.20" x2="330.25" y2="211.20" stroke="#151515" stroke-width="1.1" stroke-linecap="butt"/>
<line x1="328.50" y1="216.00" x2="328.50" y2="223.00" stroke="#151515" stroke-width="1.1" stroke-linecap="butt"/>
<line x1="326.75" y1="216.00" x2="330.25" y2="216.00" stroke="#151515" stroke-width="1.1" stroke-linecap="butt"/>
<line x1="326.75" y1="223.00" x2="330.25" y2="223.00" stroke="#151515" stroke-width="1.1" stroke-linecap="butt"/>
<polyline points="211.40,237.00 217.30,214.30 328.50,206.90" fill="none" stroke="#000" stroke-width="1.5" stroke-linejoin="round"/>
<polyline points="211.40,269.50 217.30,221.90 328.50,219.80" fill="none" stroke="#000" stroke-width="1.5" stroke-linejoin="round" stroke-dasharray="4,3"/>
<circle cx="211.40" cy="237.00" r="1.45" fill="#000" stroke="#000" stroke-width="1.1"/>
<circle cx="217.30" cy="214.30" r="1.45" fill="#000" stroke="#000" stroke-width="1.1"/>
<circle cx="328.50" cy="206.90" r="1.45" fill="#000" stroke="#000" stroke-width="1.1"/>
<circle cx="211.40" cy="269.50" r="1.50" fill="#fff" stroke="#000" stroke-width="1.1"/>
<circle cx="217.30" cy="221.90" r="1.50" fill="#fff" stroke="#000" stroke-width="1.1"/>
<circle cx="328.50" cy="219.80" r="1.50" fill="#fff" stroke="#000" stroke-width="1.1"/>
<text x="344.40" y="175.03" font-size="11.2" text-anchor="start" font-weight="bold" fill="#000">F</text>
<line x1="379.00" y1="187.22" x2="379.00" y2="271.77" stroke="#000" stroke-width="1.55" stroke-linecap="butt"/>
<line x1="376.00" y1="271.00" x2="379.00" y2="271.00" stroke="#000" stroke-width="1.55" stroke-linecap="butt"/>
<text transform="translate(375.00 274.78) scale(1 1.1)" font-size="8.8" text-anchor="end" stroke-width="0.12">0</text>
<line x1="376.00" y1="250.25" x2="379.00" y2="250.25" stroke="#000" stroke-width="1.55" stroke-linecap="butt"/>
<text transform="translate(375.00 254.03) scale(1 1.1)" font-size="8.8" text-anchor="end" stroke-width="0.12">20</text>
<line x1="376.00" y1="229.50" x2="379.00" y2="229.50" stroke="#000" stroke-width="1.55" stroke-linecap="butt"/>
<text transform="translate(375.00 233.28) scale(1 1.1)" font-size="8.8" text-anchor="end" stroke-width="0.12">40</text>
<line x1="376.00" y1="208.75" x2="379.00" y2="208.75" stroke="#000" stroke-width="1.55" stroke-linecap="butt"/>
<text transform="translate(375.00 212.53) scale(1 1.1)" font-size="8.8" text-anchor="end" stroke-width="0.12">60</text>
<line x1="376.00" y1="188.00" x2="379.00" y2="188.00" stroke="#000" stroke-width="1.55" stroke-linecap="butt"/>
<text transform="translate(375.00 191.78) scale(1 1.1)" font-size="8.8" text-anchor="end" stroke-width="0.12">80</text>
<line x1="378.23" y1="271.00" x2="503.30" y2="271.00" stroke="#000" stroke-width="1.55" stroke-linecap="butt"/>
<line x1="379.00" y1="271.00" x2="379.00" y2="274.00" stroke="#000" stroke-width="1.55" stroke-linecap="butt"/>
<text transform="translate(379.00 282.28) scale(1 1.1)" font-size="8.8" text-anchor="middle" stroke-width="0.12">0</text>
<line x1="392.80" y1="271.00" x2="392.80" y2="274.00" stroke="#000" stroke-width="1.55" stroke-linecap="butt"/>
<text transform="translate(392.80 282.28) scale(1 1.1)" font-size="8.8" text-anchor="middle" stroke-width="0.12">0.2</text>
<line x1="420.30" y1="271.00" x2="420.30" y2="274.00" stroke="#000" stroke-width="1.55" stroke-linecap="butt"/>
<text transform="translate(420.30 282.28) scale(1 1.1)" font-size="8.8" text-anchor="middle" stroke-width="0.12">0.4</text>
<line x1="448.00" y1="271.00" x2="448.00" y2="274.00" stroke="#000" stroke-width="1.55" stroke-linecap="butt"/>
<text transform="translate(448.00 282.28) scale(1 1.1)" font-size="8.8" text-anchor="middle" stroke-width="0.12">0.6</text>
<line x1="475.50" y1="271.00" x2="475.50" y2="274.00" stroke="#000" stroke-width="1.55" stroke-linecap="butt"/>
<text transform="translate(475.50 282.28) scale(1 1.1)" font-size="8.8" text-anchor="middle" stroke-width="0.12">0.8</text>
<line x1="503.30" y1="271.00" x2="503.30" y2="274.00" stroke="#000" stroke-width="1.55" stroke-linecap="butt"/>
<text transform="translate(503.30 282.28) scale(1 1.1)" font-size="8.8" text-anchor="middle" stroke-width="0.12">1.0</text>
<text x="442.50" y="297.60" font-size="12.7" text-anchor="middle" fill="#000">U46619 (μM)</text>
<text x="355.40" y="229.80" font-size="11.0" text-anchor="middle" transform="rotate(-90 355.4 229.8)" fill="#000">% aggregation</text>
<line x1="400.00" y1="216.40" x2="400.00" y2="229.20" stroke="#151515" stroke-width="1.1" stroke-linecap="butt"/>
<line x1="398.25" y1="216.40" x2="401.75" y2="216.40" stroke="#151515" stroke-width="1.1" stroke-linecap="butt"/>
<line x1="398.25" y1="229.20" x2="401.75" y2="229.20" stroke="#151515" stroke-width="1.1" stroke-linecap="butt"/>
<line x1="379.50" y1="216.00" x2="379.50" y2="222.00" stroke="#151515" stroke-width="1.1" stroke-linecap="butt"/>
<line x1="377.75" y1="216.00" x2="381.25" y2="216.00" stroke="#151515" stroke-width="1.1" stroke-linecap="butt"/>
<line x1="377.75" y1="222.00" x2="381.25" y2="222.00" stroke="#151515" stroke-width="1.1" stroke-linecap="butt"/>
<polyline points="379.00,219.10 400.00,222.80 502.70,221.90" fill="none" stroke="#000" stroke-width="1.5" stroke-linejoin="round"/>
<polyline points="379.00,256.40 400.00,245.80 502.70,243.70" fill="none" stroke="#000" stroke-width="1.5" stroke-linejoin="round" stroke-dasharray="4,3"/>
<circle cx="379.00" cy="219.10" r="1.45" fill="#000" stroke="#000" stroke-width="1.1"/>
<circle cx="400.00" cy="222.80" r="1.45" fill="#000" stroke="#000" stroke-width="1.1"/>
<circle cx="502.70" cy="221.90" r="1.45" fill="#000" stroke="#000" stroke-width="1.1"/>
<circle cx="379.00" cy="256.40" r="1.80" fill="#000" stroke="#000" stroke-width="1.1"/>
<circle cx="400.00" cy="245.80" r="1.50" fill="#fff" stroke="#000" stroke-width="1.1"/>
<circle cx="502.70" cy="243.70" r="1.50" fill="#fff" stroke="#000" stroke-width="1.1"/>
<text x="0.60" y="325.43" font-size="11.2" text-anchor="start" font-weight="bold" fill="#000">G</text>
<line x1="24.80" y1="346.73" x2="24.80" y2="436.07" stroke="#000" stroke-width="1.55" stroke-linecap="butt"/>
<line x1="21.80" y1="435.30" x2="24.80" y2="435.30" stroke="#000" stroke-width="1.55" stroke-linecap="butt"/>
<text transform="translate(20.80 439.08) scale(1 1.1)" font-size="8.8" text-anchor="end" stroke-width="0.12">0</text>
<line x1="21.80" y1="417.75" x2="24.80" y2="417.75" stroke="#000" stroke-width="1.55" stroke-linecap="butt"/>
<text transform="translate(20.80 421.53) scale(1 1.1)" font-size="8.8" text-anchor="end" stroke-width="0.12">10</text>
<line x1="21.80" y1="400.20" x2="24.80" y2="400.20" stroke="#000" stroke-width="1.55" stroke-linecap="butt"/>
<text transform="translate(20.80 403.98) scale(1 1.1)" font-size="8.8" text-anchor="end" stroke-width="0.12">20</text>
<line x1="21.80" y1="382.65" x2="24.80" y2="382.65" stroke="#000" stroke-width="1.55" stroke-linecap="butt"/>
<text transform="translate(20.80 386.43) scale(1 1.1)" font-size="8.8" text-anchor="end" stroke-width="0.12">30</text>
<line x1="21.80" y1="365.10" x2="24.80" y2="365.10" stroke="#000" stroke-width="1.55" stroke-linecap="butt"/>
<text transform="translate(20.80 368.88) scale(1 1.1)" font-size="8.8" text-anchor="end" stroke-width="0.12">40</text>
<line x1="21.80" y1="347.55" x2="24.80" y2="347.55" stroke="#000" stroke-width="1.55" stroke-linecap="butt"/>
<text transform="translate(20.80 351.33) scale(1 1.1)" font-size="8.8" text-anchor="end" stroke-width="0.12">50</text>
<line x1="24.03" y1="435.30" x2="156.50" y2="435.30" stroke="#000" stroke-width="1.55" stroke-linecap="butt"/>
<line x1="58.00" y1="435.30" x2="58.00" y2="438.30" stroke="#000" stroke-width="1.55" stroke-linecap="butt"/>
<line x1="123.40" y1="435.30" x2="123.40" y2="438.30" stroke="#000" stroke-width="1.55" stroke-linecap="butt"/>
<text x="58.50" y="450.50" font-size="12.2" text-anchor="middle" fill="#000">WT</text>
<text x="126.00" y="450.50" font-size="12.7" text-anchor="middle" font-style="italic" fill="#000">Nbeal2-/-</text>
<text x="10.10" y="385.60" font-size="11.0" text-anchor="middle" transform="rotate(-90 10.1 385.6)" fill="#000">AUC</text>
<line x1="36.20" y1="370.40" x2="79.90" y2="370.40" stroke="#000" stroke-width="1.3" stroke-linecap="butt"/>
<line x1="46.90" y1="366.00" x2="69.10" y2="366.00" stroke="#000" stroke-width="1.3" stroke-linecap="butt"/>
<line x1="46.90" y1="375.30" x2="69.10" y2="375.30" stroke="#000" stroke-width="1.3" stroke-linecap="butt"/>
<line x1="58.00" y1="366.00" x2="58.00" y2="375.30" stroke="#000" stroke-width="1.3" stroke-linecap="butt"/>
<rect x="53.70" y="354.00" width="3.40" height="3.40" fill="#000"/>
<rect x="58.90" y="357.80" width="3.40" height="3.40" fill="#000"/>
<rect x="56.40" y="367.00" width="3.40" height="3.40" fill="#000"/>
<rect x="56.40" y="373.70" width="3.40" height="3.40" fill="#000"/>
<rect x="58.90" y="377.70" width="3.40" height="3.40" fill="#000"/>
<rect x="53.70" y="382.00" width="3.40" height="3.40" fill="#000"/>
<line x1="101.80" y1="398.80" x2="145.20" y2="398.80" stroke="#777" stroke-width="1.6" stroke-linecap="butt"/>
<rect x="112.20" y="396.40" width="22.20" height="5.00" fill="#888"/>
<circle cx="118.30" cy="394.80" r="1.70" fill="#fff" stroke="#000" stroke-width="1.1"/>
<circle cx="128.80" cy="392.40" r="1.70" fill="#fff" stroke="#000" stroke-width="1.1"/>
<circle cx="123.40" cy="396.80" r="1.70" fill="#fff" stroke="#000" stroke-width="1.1"/>
<circle cx="118.30" cy="400.90" r="1.70" fill="#fff" stroke="#000" stroke-width="1.1"/>
<circle cx="128.80" cy="401.80" r="1.70" fill="#fff" stroke="#000" stroke-width="1.1"/>
<circle cx="123.40" cy="404.90" r="1.70" fill="#fff" stroke="#000" stroke-width="1.1"/>
<text x="164.10" y="324.83" font-size="11.2" text-anchor="start" font-weight="bold" fill="#000">H</text>
<line x1="191.20" y1="349.62" x2="191.20" y2="435.57" stroke="#000" stroke-width="1.55" stroke-linecap="butt"/>
<line x1="188.20" y1="434.80" x2="191.20" y2="434.80" stroke="#000" stroke-width="1.55" stroke-linecap="butt"/>
<text transform="translate(187.20 438.58) scale(1 1.1)" font-size="8.8" text-anchor="end" stroke-width="0.12">0</text>
<line x1="188.20" y1="417.92" x2="191.20" y2="417.92" stroke="#000" stroke-width="1.55" stroke-linecap="butt"/>
<text transform="translate(187.20 421.70) scale(1 1.1)" font-size="8.8" text-anchor="end" stroke-width="0.12">100</text>
<line x1="188.20" y1="401.04" x2="191.20" y2="401.04" stroke="#000" stroke-width="1.55" stroke-linecap="butt"/>
<text transform="translate(187.20 404.82) scale(1 1.1)" font-size="8.8" text-anchor="end" stroke-width="0.12">200</text>
<line x1="188.20" y1="384.16" x2="191.20" y2="384.16" stroke="#000" stroke-width="1.55" stroke-linecap="butt"/>
<text transform="translate(187.20 387.94) scale(1 1.1)" font-size="8.8" text-anchor="end" stroke-width="0.12">300</text>
<line x1="188.20" y1="367.28" x2="191.20" y2="367.28" stroke="#000" stroke-width="1.55" stroke-linecap="butt"/>
<text transform="translate(187.20 371.06) scale(1 1.1)" font-size="8.8" text-anchor="end" stroke-width="0.12">400</text>
<line x1="188.20" y1="350.40" x2="191.20" y2="350.40" stroke="#000" stroke-width="1.55" stroke-linecap="butt"/>
<text transform="translate(187.20 354.18) scale(1 1.1)" font-size="8.8" text-anchor="end" stroke-width="0.12">500</text>
<line x1="190.42" y1="434.80" x2="318.80" y2="434.80" stroke="#000" stroke-width="1.55" stroke-linecap="butt"/>
<line x1="191.80" y1="434.80" x2="191.80" y2="437.80" stroke="#000" stroke-width="1.55" stroke-linecap="butt"/>
<text transform="translate(191.80 446.78) scale(1 1.1)" font-size="8.8" text-anchor="middle" stroke-width="0.12">0</text>
<line x1="222.90" y1="434.80" x2="222.90" y2="437.80" stroke="#000" stroke-width="1.55" stroke-linecap="butt"/>
<text transform="translate(222.90 446.78) scale(1 1.1)" font-size="8.8" text-anchor="middle" stroke-width="0.12">10</text>
<line x1="254.00" y1="434.80" x2="254.00" y2="437.80" stroke="#000" stroke-width="1.55" stroke-linecap="butt"/>
<text transform="translate(254.00 446.78) scale(1 1.1)" font-size="8.8" text-anchor="middle" stroke-width="0.12">20</text>
<line x1="285.10" y1="434.80" x2="285.10" y2="437.80" stroke="#000" stroke-width="1.55" stroke-linecap="butt"/>
<text transform="translate(285.10 446.78) scale(1 1.1)" font-size="8.8" text-anchor="middle" stroke-width="0.12">30</text>
<line x1="316.20" y1="434.80" x2="316.20" y2="437.80" stroke="#000" stroke-width="1.55" stroke-linecap="butt"/>
<text transform="translate(316.20 446.78) scale(1 1.1)" font-size="8.8" text-anchor="middle" stroke-width="0.12">40</text>
<text x="259.70" y="458.00" font-size="12.7" text-anchor="middle" fill="#000">time (min)</text>
<text x="168.30" y="390.30" font-size="11.0" text-anchor="middle" transform="rotate(-90 168.3 390.3)" fill="#000">blood loss (μL)</text>
<line x1="197.42" y1="422.70" x2="197.42" y2="431.00" stroke="#151515" stroke-width="1.1" stroke-linecap="butt"/>
<line x1="195.67" y1="422.70" x2="199.17" y2="422.70" stroke="#151515" stroke-width="1.1" stroke-linecap="butt"/>
<line x1="195.67" y1="431.00" x2="199.17" y2="431.00" stroke="#151515" stroke-width="1.1" stroke-linecap="butt"/>
<line x1="203.64" y1="409.00" x2="203.64" y2="423.50" stroke="#151515" stroke-width="1.1" stroke-linecap="butt"/>
<line x1="201.89" y1="409.00" x2="205.39" y2="409.00" stroke="#151515" stroke-width="1.1" stroke-linecap="butt"/>
<line x1="201.89" y1="423.50" x2="205.39" y2="423.50" stroke="#151515" stroke-width="1.1" stroke-linecap="butt"/>
<line x1="209.86" y1="396.50" x2="209.86" y2="417.70" stroke="#151515" stroke-width="1.1" stroke-linecap="butt"/>
<line x1="208.11" y1="396.50" x2="211.61" y2="396.50" stroke="#151515" stroke-width="1.1" stroke-linecap="butt"/>
<line x1="208.11" y1="417.70" x2="211.61" y2="417.70" stroke="#151515" stroke-width="1.1" stroke-linecap="butt"/>
<line x1="216.08" y1="384.50" x2="216.08" y2="412.50" stroke="#151515" stroke-width="1.1" stroke-linecap="butt"/>
<line x1="214.33" y1="384.50" x2="217.83" y2="384.50" stroke="#151515" stroke-width="1.1" stroke-linecap="butt"/>
<line x1="214.33" y1="412.50" x2="217.83" y2="412.50" stroke="#151515" stroke-width="1.1" stroke-linecap="butt"/>
<line x1="222.30" y1="376.70" x2="222.30" y2="407.40" stroke="#151515" stroke-width="1.1" stroke-linecap="butt"/>
<line x1="220.55" y1="376.70" x2="224.05" y2="376.70" stroke="#151515" stroke-width="1.1" stroke-linecap="butt"/>
<line x1="220.55" y1="407.40" x2="224.05" y2="407.40" stroke="#151515" stroke-width="1.1" stroke-linecap="butt"/>
<line x1="237.85" y1="365.10" x2="237.85" y2="400.70" stroke="#151515" stroke-width="1.1" stroke-linecap="butt"/>
<line x1="236.10" y1="365.10" x2="239.60" y2="365.10" stroke="#151515" stroke-width="1.1" stroke-linecap="butt"/>
<line x1="236.10" y1="400.70" x2="239.60" y2="400.70" stroke="#151515" stroke-width="1.1" stroke-linecap="butt"/>
<line x1="253.40" y1="360.20" x2="253.40" y2="397.30" stroke="#151515" stroke-width="1.1" stroke-linecap="butt"/>
<line x1="251.65" y1="360.20" x2="255.15" y2="360.20" stroke="#151515" stroke-width="1.1" stroke-linecap="butt"/>
<line x1="251.65" y1="397.30" x2="255.15" y2="397.30" stroke="#151515" stroke-width="1.1" stroke-linecap="butt"/>
<line x1="268.95" y1="361.70" x2="268.95" y2="402.70" stroke="#151515" stroke-width="1.1" stroke-linecap="butt"/>
<line x1="267.20" y1="361.70" x2="270.70" y2="361.70" stroke="#151515" stroke-width="1.1" stroke-linecap="butt"/>
<line x1="267.20" y1="402.70" x2="270.70" y2="402.70" stroke="#151515" stroke-width="1.1" stroke-linecap="butt"/>
<line x1="284.50" y1="360.20" x2="284.50" y2="401.90" stroke="#151515" stroke-width="1.1" stroke-linecap="butt"/>
<line x1="282.75" y1="360.20" x2="286.25" y2="360.20" stroke="#151515" stroke-width="1.1" stroke-linecap="butt"/>
<line x1="282.75" y1="401.90" x2="286.25" y2="401.90" stroke="#151515" stroke-width="1.1" stroke-linecap="butt"/>
<line x1="315.60" y1="359.20" x2="315.60" y2="401.50" stroke="#151515" stroke-width="1.1" stroke-linecap="butt"/>
<line x1="313.85" y1="359.20" x2="317.35" y2="359.20" stroke="#151515" stroke-width="1.1" stroke-linecap="butt"/>
<line x1="313.85" y1="401.50" x2="317.35" y2="401.50" stroke="#151515" stroke-width="1.1" stroke-linecap="butt"/>
<circle cx="197.42" cy="426.30" r="1.70" fill="#fff" stroke="#000" stroke-width="1.1"/>
<circle cx="203.64" cy="416.70" r="1.70" fill="#fff" stroke="#000" stroke-width="1.1"/>
<circle cx="209.86" cy="407.00" r="1.70" fill="#fff" stroke="#000" stroke-width="1.1"/>
<circle cx="216.08" cy="398.60" r="1.70" fill="#fff" stroke="#000" stroke-width="1.1"/>
<circle cx="222.30" cy="392.20" r="1.70" fill="#fff" stroke="#000" stroke-width="1.1"/>
<circle cx="237.85" cy="382.80" r="1.70" fill="#fff" stroke="#000" stroke-width="1.1"/>
<circle cx="253.40" cy="379.40" r="1.70" fill="#fff" stroke="#000" stroke-width="1.1"/>
<circle cx="268.95" cy="382.30" r="1.70" fill="#fff" stroke="#000" stroke-width="1.1"/>
<circle cx="284.50" cy="381.30" r="1.70" fill="#fff" stroke="#000" stroke-width="1.1"/>
<circle cx="315.60" cy="380.40" r="1.70" fill="#fff" stroke="#000" stroke-width="1.1"/>
<line x1="253.40" y1="425.50" x2="253.40" y2="432.50" stroke="#151515" stroke-width="1.1" stroke-linecap="butt"/>
<line x1="251.65" y1="425.50" x2="255.15" y2="425.50" stroke="#151515" stroke-width="1.1" stroke-linecap="butt"/>
<line x1="251.65" y1="432.50" x2="255.15" y2="432.50" stroke="#151515" stroke-width="1.1" stroke-linecap="butt"/>
<line x1="268.95" y1="425.60" x2="268.95" y2="430.40" stroke="#151515" stroke-width="1.1" stroke-linecap="butt"/>
<line x1="267.20" y1="425.60" x2="270.70" y2="425.60" stroke="#151515" stroke-width="1.1" stroke-linecap="butt"/>
<line x1="267.20" y1="430.40" x2="270.70" y2="430.40" stroke="#151515" stroke-width="1.1" stroke-linecap="butt"/>
<line x1="284.50" y1="423.70" x2="284.50" y2="430.00" stroke="#151515" stroke-width="1.1" stroke-linecap="butt"/>
<line x1="282.75" y1="423.70" x2="286.25" y2="423.70" stroke="#151515" stroke-width="1.1" stroke-linecap="butt"/>
<line x1="282.75" y1="430.00" x2="286.25" y2="430.00" stroke="#151515" stroke-width="1.1" stroke-linecap="butt"/>
<line x1="315.60" y1="417.90" x2="315.60" y2="428.50" stroke="#151515" stroke-width="1.1" stroke-linecap="butt"/>
<line x1="313.85" y1="417.90" x2="317.35" y2="417.90" stroke="#151515" stroke-width="1.1" stroke-linecap="butt"/>
<line x1="313.85" y1="428.50" x2="317.35" y2="428.50" stroke="#151515" stroke-width="1.1" stroke-linecap="butt"/>
<rect x="195.72" y="431.10" width="3.40" height="3.40" fill="#000"/>
<rect x="201.94" y="431.30" width="3.40" height="3.40" fill="#000"/>
<rect x="208.16" y="431.30" width="3.40" height="3.40" fill="#000"/>
<rect x="214.38" y="431.10" width="3.40" height="3.40" fill="#000"/>
<rect x="220.60" y="430.90" width="3.40" height="3.40" fill="#000"/>
<rect x="236.15" y="429.30" width="3.40" height="3.40" fill="#000"/>
<rect x="251.70" y="427.30" width="3.40" height="3.40" fill="#000"/>
<rect x="267.25" y="426.20" width="3.40" height="3.40" fill="#000"/>
<rect x="282.80" y="424.80" width="3.40" height="3.40" fill="#000"/>
<rect x="313.90" y="421.00" width="3.40" height="3.40" fill="#000"/>
<rect x="189.60" y="433.20" width="3.20" height="3.20" fill="#000"/>
<text x="326.30" y="325.43" font-size="11.2" text-anchor="start" font-weight="bold" fill="#000">I</text>
<text x="423.40" y="325.43" font-size="11.2" text-anchor="start" font-weight="bold" fill="#000">J</text>
<line x1="353.50" y1="349.35" x2="353.50" y2="435.45" stroke="#000" stroke-width="1.3" stroke-linecap="butt"/>
<line x1="351.30" y1="434.80" x2="353.50" y2="434.80" stroke="#000" stroke-width="1.3" stroke-linecap="butt"/>
<text transform="translate(351.50 438.58) scale(1 1.1)" font-size="8.8" text-anchor="end" stroke-width="0.12">0</text>
<line x1="351.30" y1="413.60" x2="353.50" y2="413.60" stroke="#000" stroke-width="1.3" stroke-linecap="butt"/>
<text transform="translate(351.50 417.38) scale(1 1.1)" font-size="8.8" text-anchor="end" stroke-width="0.12">0.5</text>
<line x1="351.30" y1="392.40" x2="353.50" y2="392.40" stroke="#000" stroke-width="1.3" stroke-linecap="butt"/>
<text transform="translate(351.50 396.18) scale(1 1.1)" font-size="8.8" text-anchor="end" stroke-width="0.12">1.0</text>
<line x1="351.30" y1="371.20" x2="353.50" y2="371.20" stroke="#000" stroke-width="1.3" stroke-linecap="butt"/>
<text transform="translate(351.50 374.98) scale(1 1.1)" font-size="8.8" text-anchor="end" stroke-width="0.12">1.5</text>
<line x1="351.30" y1="350.00" x2="353.50" y2="350.00" stroke="#000" stroke-width="1.3" stroke-linecap="butt"/>
<text transform="translate(351.50 353.78) scale(1 1.1)" font-size="8.8" text-anchor="end" stroke-width="0.12">2.0</text>
<line x1="353.50" y1="434.80" x2="417.10" y2="434.80" stroke="#000" stroke-width="1.3" stroke-linecap="butt"/>
<line x1="370.05" y1="434.80" x2="370.05" y2="437.00" stroke="#000" stroke-width="1.3" stroke-linecap="butt"/>
<line x1="401.90" y1="434.80" x2="401.90" y2="437.00" stroke="#000" stroke-width="1.3" stroke-linecap="butt"/>
<text x="387.00" y="339.50" font-size="12.7" text-anchor="middle" fill="#000">Sum</text>
<line x1="370.05" y1="366.40" x2="370.05" y2="372.00" stroke="#000" stroke-width="1.2" stroke-linecap="butt"/>
<line x1="364.75" y1="366.40" x2="375.35" y2="366.40" stroke="#000" stroke-width="1.3" stroke-linecap="butt"/>
<rect x="359.40" y="372.00" width="21.30" height="62.80" fill="#000"/>
<line x1="401.90" y1="383.70" x2="401.90" y2="387.30" stroke="#000" stroke-width="1.2" stroke-linecap="butt"/>
<line x1="396.80" y1="383.70" x2="407.00" y2="383.70" stroke="#000" stroke-width="1.3" stroke-linecap="butt"/>
<rect x="392.05" y="387.95" width="19.70" height="46.85" fill="#fff" stroke="#000" stroke-width="1.3"/>
<text x="401.50" y="381.60" font-size="15" text-anchor="middle" fill="#000">*</text>
<line x1="451.10" y1="349.35" x2="451.10" y2="435.45" stroke="#000" stroke-width="1.3" stroke-linecap="butt"/>
<line x1="448.90" y1="434.80" x2="451.10" y2="434.80" stroke="#000" stroke-width="1.3" stroke-linecap="butt"/>
<text transform="translate(449.10 438.58) scale(1 1.1)" font-size="8.8" text-anchor="end" stroke-width="0.12">0</text>
<line x1="448.90" y1="413.80" x2="451.10" y2="413.80" stroke="#000" stroke-width="1.3" stroke-linecap="butt"/>
<text transform="translate(449.10 417.58) scale(1 1.1)" font-size="8.8" text-anchor="end" stroke-width="0.12">0.1</text>
<line x1="448.90" y1="392.80" x2="451.10" y2="392.80" stroke="#000" stroke-width="1.3" stroke-linecap="butt"/>
<text transform="translate(449.10 396.58) scale(1 1.1)" font-size="8.8" text-anchor="end" stroke-width="0.12">0.2</text>
<line x1="448.90" y1="371.80" x2="451.10" y2="371.80" stroke="#000" stroke-width="1.3" stroke-linecap="butt"/>
<text transform="translate(449.10 375.58) scale(1 1.1)" font-size="8.8" text-anchor="end" stroke-width="0.12">0.3</text>
<line x1="448.90" y1="350.80" x2="451.10" y2="350.80" stroke="#000" stroke-width="1.3" stroke-linecap="butt"/>
<text transform="translate(449.10 354.58) scale(1 1.1)" font-size="8.8" text-anchor="end" stroke-width="0.12">0.4</text>
<line x1="451.10" y1="434.80" x2="511.50" y2="434.80" stroke="#000" stroke-width="1.3" stroke-linecap="butt"/>
<line x1="466.40" y1="434.80" x2="466.40" y2="437.00" stroke="#000" stroke-width="1.3" stroke-linecap="butt"/>
<line x1="496.65" y1="434.80" x2="496.65" y2="437.00" stroke="#000" stroke-width="1.3" stroke-linecap="butt"/>
<text x="480.90" y="339.50" font-size="12.7" text-anchor="middle" fill="#000">Maximal</text>
<line x1="466.40" y1="366.70" x2="466.40" y2="371.40" stroke="#000" stroke-width="1.2" stroke-linecap="butt"/>
<line x1="461.10" y1="366.70" x2="471.70" y2="366.70" stroke="#000" stroke-width="1.3" stroke-linecap="butt"/>
<rect x="456.10" y="371.40" width="20.60" height="63.40" fill="#000"/>
<line x1="496.65" y1="381.40" x2="496.65" y2="384.70" stroke="#000" stroke-width="1.2" stroke-linecap="butt"/>
<line x1="491.55" y1="381.40" x2="501.75" y2="381.40" stroke="#000" stroke-width="1.3" stroke-linecap="butt"/>
<rect x="487.05" y="385.35" width="19.20" height="49.45" fill="#fff" stroke="#000" stroke-width="1.3"/>
<text x="496.50" y="377.60" font-size="15" text-anchor="middle" fill="#000">*</text>
<text transform="translate(336.5 387) rotate(-90)" font-size="11.0" text-anchor="middle">X488 intensity (x10<tspan font-size="8" dy="-3.6">9</tspan><tspan dy="3.6">)</tspan></text>
<text transform="translate(434.2 387) rotate(-90)" font-size="11.0" text-anchor="middle">X488 intensity (x10<tspan font-size="8" dy="-3.6">9</tspan><tspan dy="3.6">)</tspan></text>
<text x="360.00" y="448.50" font-size="10.8" text-anchor="start" fill="#000">WT</text>
<text x="381.00" y="448.50" font-size="10.8" text-anchor="start" font-style="italic" fill="#000">Nbeal2-/-</text>
<text x="455.80" y="448.50" font-size="10.8" text-anchor="start" fill="#000">WT</text>
<text x="474.80" y="448.50" font-size="10.8" text-anchor="start" font-style="italic" fill="#000">Nbeal2-/-</text>
<text x="0.00" y="471.83" font-size="11.2" text-anchor="start" font-weight="bold" fill="#000">K</text>
<text x="165.20" y="471.83" font-size="11.2" text-anchor="start" font-weight="bold" fill="#000">L</text>
<line x1="16.40" y1="497.70" x2="16.40" y2="584.27" stroke="#000" stroke-width="1.55" stroke-linecap="butt"/>
<line x1="15.62" y1="583.50" x2="144.90" y2="583.50" stroke="#000" stroke-width="1.55" stroke-linecap="butt"/>
<line x1="16.40" y1="583.50" x2="16.40" y2="586.50" stroke="#000" stroke-width="1.55" stroke-linecap="butt"/>
<text transform="translate(16.40 595.08) scale(1 1.1)" font-size="8.8" text-anchor="middle" stroke-width="0.12">0</text>
<line x1="48.20" y1="583.50" x2="48.20" y2="586.50" stroke="#000" stroke-width="1.55" stroke-linecap="butt"/>
<text transform="translate(48.20 595.08) scale(1 1.1)" font-size="8.8" text-anchor="middle" stroke-width="0.12">40</text>
<line x1="80.00" y1="583.50" x2="80.00" y2="586.50" stroke="#000" stroke-width="1.55" stroke-linecap="butt"/>
<text transform="translate(80.00 595.08) scale(1 1.1)" font-size="8.8" text-anchor="middle" stroke-width="0.12">80</text>
<line x1="111.80" y1="583.50" x2="111.80" y2="586.50" stroke="#000" stroke-width="1.55" stroke-linecap="butt"/>
<text transform="translate(111.80 595.08) scale(1 1.1)" font-size="8.8" text-anchor="middle" stroke-width="0.12">120</text>
<line x1="143.60" y1="583.50" x2="143.60" y2="586.50" stroke="#000" stroke-width="1.55" stroke-linecap="butt"/>
<text transform="translate(143.60 595.08) scale(1 1.1)" font-size="8.8" text-anchor="middle" stroke-width="0.12">180</text>
<text x="68.20" y="493.00" font-size="12.7" text-anchor="middle" fill="#000">CD41 binding</text>
<rect x="16.40" y="504.60" width="103.40" height="29.20" fill="#000"/>
<rect x="16.40" y="547.60" width="100.20" height="28.90" fill="#fff" stroke="#000" stroke-width="1.4"/>
<line x1="119.80" y1="519.40" x2="121.00" y2="519.40" stroke="#888" stroke-width="1.1" stroke-linecap="butt"/>
<line x1="119.80" y1="512.90" x2="119.80" y2="525.90" stroke="#888" stroke-width="1.1" stroke-linecap="butt"/>
<line x1="121.00" y1="512.90" x2="121.00" y2="525.90" stroke="#888" stroke-width="1.1" stroke-linecap="butt"/>
<line x1="116.60" y1="562.00" x2="118.60" y2="562.00" stroke="#888" stroke-width="1.1" stroke-linecap="butt"/>
<line x1="116.60" y1="555.50" x2="116.60" y2="568.50" stroke="#888" stroke-width="1.1" stroke-linecap="butt"/>
<line x1="118.60" y1="555.50" x2="118.60" y2="568.50" stroke="#888" stroke-width="1.1" stroke-linecap="butt"/>
<text x="19.00" y="606.40" font-size="12.7" text-anchor="start" fill="#000">time of half-maximal</text>
<text x="19.00" y="622.50" font-size="12.7" text-anchor="start" fill="#000">activation (sec)</text>
<text x="11.30" y="517.70" font-size="11.7" text-anchor="middle" transform="rotate(-90 11.299999999999999 517.7)" fill="#000">WT</text>
<text x="11.30" y="559.30" font-size="11.2" text-anchor="middle" font-style="italic" transform="rotate(-90 11.299999999999999 559.3)" fill="#000">Nbeal2-/-</text>
<line x1="181.50" y1="497.70" x2="181.50" y2="584.27" stroke="#000" stroke-width="1.55" stroke-linecap="butt"/>
<line x1="180.72" y1="583.50" x2="310.00" y2="583.50" stroke="#000" stroke-width="1.55" stroke-linecap="butt"/>
<line x1="181.50" y1="583.50" x2="181.50" y2="586.50" stroke="#000" stroke-width="1.55" stroke-linecap="butt"/>
<text transform="translate(181.50 595.08) scale(1 1.1)" font-size="8.8" text-anchor="middle" stroke-width="0.12">0</text>
<line x1="213.30" y1="583.50" x2="213.30" y2="586.50" stroke="#000" stroke-width="1.55" stroke-linecap="butt"/>
<text transform="translate(213.30 595.08) scale(1 1.1)" font-size="8.8" text-anchor="middle" stroke-width="0.12">40</text>
<line x1="245.10" y1="583.50" x2="245.10" y2="586.50" stroke="#000" stroke-width="1.55" stroke-linecap="butt"/>
<text transform="translate(245.10 595.08) scale(1 1.1)" font-size="8.8" text-anchor="middle" stroke-width="0.12">80</text>
<line x1="276.90" y1="583.50" x2="276.90" y2="586.50" stroke="#000" stroke-width="1.55" stroke-linecap="butt"/>
<text transform="translate(276.90 595.08) scale(1 1.1)" font-size="8.8" text-anchor="middle" stroke-width="0.12">120</text>
<line x1="308.70" y1="583.50" x2="308.70" y2="586.50" stroke="#000" stroke-width="1.55" stroke-linecap="butt"/>
<text transform="translate(308.70 595.08) scale(1 1.1)" font-size="8.8" text-anchor="middle" stroke-width="0.12">180</text>
<text x="235.00" y="493.00" font-size="12.7" text-anchor="middle" fill="#000">P-selectin binding</text>
<rect x="181.50" y="504.60" width="94.90" height="29.20" fill="#000"/>
<rect x="181.50" y="547.60" width="91.20" height="28.90" fill="#fff" stroke="#000" stroke-width="1.4"/>
<line x1="276.40" y1="519.40" x2="279.50" y2="519.40" stroke="#000" stroke-width="1.1" stroke-linecap="butt"/>
<line x1="276.40" y1="512.40" x2="276.40" y2="526.40" stroke="#000" stroke-width="1.1" stroke-linecap="butt"/>
<line x1="279.50" y1="512.40" x2="279.50" y2="526.40" stroke="#000" stroke-width="1.1" stroke-linecap="butt"/>
<line x1="272.70" y1="561.80" x2="277.00" y2="561.80" stroke="#000" stroke-width="1.1" stroke-linecap="butt"/>
<line x1="272.70" y1="554.80" x2="272.70" y2="568.80" stroke="#000" stroke-width="1.1" stroke-linecap="butt"/>
<line x1="277.00" y1="554.80" x2="277.00" y2="568.80" stroke="#000" stroke-width="1.1" stroke-linecap="butt"/>
<text x="185.40" y="606.40" font-size="12.7" text-anchor="start" fill="#000">time of half-maximal</text>
<text x="185.40" y="622.50" font-size="12.7" text-anchor="start" fill="#000">activation (sec)</text>
<text x="176.40" y="517.70" font-size="11.7" text-anchor="middle" transform="rotate(-90 176.4 517.7)" fill="#000">WT</text>
<text x="176.40" y="559.30" font-size="11.2" text-anchor="middle" font-style="italic" transform="rotate(-90 176.4 559.3)" fill="#000">Nbeal2-/-</text>
<text x="327.20" y="472.03" font-size="11.2" text-anchor="start" font-weight="bold" fill="#000">M</text>
<line x1="362.30" y1="494.43" x2="362.30" y2="596.77" stroke="#000" stroke-width="1.55" stroke-linecap="butt"/>
<line x1="359.30" y1="596.00" x2="362.30" y2="596.00" stroke="#000" stroke-width="1.55" stroke-linecap="butt"/>
<text transform="translate(358.30 599.90) scale(1 1.1)" font-size="9.1" text-anchor="end" stroke-width="0.12">250</text>
<line x1="359.30" y1="562.30" x2="362.30" y2="562.30" stroke="#000" stroke-width="1.55" stroke-linecap="butt"/>
<text transform="translate(358.30 566.20) scale(1 1.1)" font-size="9.1" text-anchor="end" stroke-width="0.12">300</text>
<line x1="359.30" y1="528.60" x2="362.30" y2="528.60" stroke="#000" stroke-width="1.55" stroke-linecap="butt"/>
<text transform="translate(358.30 532.50) scale(1 1.1)" font-size="9.1" text-anchor="end" stroke-width="0.12">350</text>
<line x1="359.30" y1="494.90" x2="362.30" y2="494.90" stroke="#000" stroke-width="1.55" stroke-linecap="butt"/>
<text transform="translate(358.30 498.80) scale(1 1.1)" font-size="9.1" text-anchor="end" stroke-width="0.12">400</text>
<line x1="361.53" y1="596.00" x2="514.00" y2="596.00" stroke="#000" stroke-width="1.55" stroke-linecap="butt"/>
<line x1="362.60" y1="596.00" x2="362.60" y2="599.00" stroke="#000" stroke-width="1.55" stroke-linecap="butt"/>
<text transform="translate(362.60 608.81) scale(1 1.1)" font-size="9.1" text-anchor="middle" stroke-width="0.12">0</text>
<line x1="434.60" y1="596.00" x2="434.60" y2="599.00" stroke="#000" stroke-width="1.55" stroke-linecap="butt"/>
<text transform="translate(434.60 608.81) scale(1 1.1)" font-size="9.1" text-anchor="middle" stroke-width="0.12">100</text>
<line x1="506.60" y1="596.00" x2="506.60" y2="599.00" stroke="#000" stroke-width="1.55" stroke-linecap="butt"/>
<text transform="translate(506.60 608.81) scale(1 1.1)" font-size="9.1" text-anchor="middle" stroke-width="0.12">200</text>
<text x="436.50" y="621.50" font-size="12.7" text-anchor="middle" fill="#000">time (sec)</text>
<text x="337.50" y="542.60" font-size="11.0" text-anchor="middle" transform="rotate(-90 337.5 542.6)" fill="#000">P-selectin:GPIbβ ratio (AU)</text>
<line x1="377.00" y1="564.80" x2="377.00" y2="574.00" stroke="#151515" stroke-width="1.1" stroke-linecap="butt"/>
<line x1="374.75" y1="564.80" x2="379.25" y2="564.80" stroke="#151515" stroke-width="1.1" stroke-linecap="butt"/>
<line x1="374.75" y1="574.00" x2="379.25" y2="574.00" stroke="#151515" stroke-width="1.1" stroke-linecap="butt"/>
<line x1="391.40" y1="571.00" x2="391.40" y2="580.20" stroke="#151515" stroke-width="1.1" stroke-linecap="butt"/>
<line x1="389.15" y1="571.00" x2="393.65" y2="571.00" stroke="#151515" stroke-width="1.1" stroke-linecap="butt"/>
<line x1="389.15" y1="580.20" x2="393.65" y2="580.20" stroke="#151515" stroke-width="1.1" stroke-linecap="butt"/>
<line x1="405.80" y1="565.00" x2="405.80" y2="574.20" stroke="#151515" stroke-width="1.1" stroke-linecap="butt"/>
<line x1="403.55" y1="565.00" x2="408.05" y2="565.00" stroke="#151515" stroke-width="1.1" stroke-linecap="butt"/>
<line x1="403.55" y1="574.20" x2="408.05" y2="574.20" stroke="#151515" stroke-width="1.1" stroke-linecap="butt"/>
<line x1="420.20" y1="556.60" x2="420.20" y2="565.80" stroke="#151515" stroke-width="1.1" stroke-linecap="butt"/>
<line x1="417.95" y1="556.60" x2="422.45" y2="556.60" stroke="#151515" stroke-width="1.1" stroke-linecap="butt"/>
<line x1="417.95" y1="565.80" x2="422.45" y2="565.80" stroke="#151515" stroke-width="1.1" stroke-linecap="butt"/>
<line x1="434.60" y1="546.60" x2="434.60" y2="555.80" stroke="#151515" stroke-width="1.1" stroke-linecap="butt"/>
<line x1="432.35" y1="546.60" x2="436.85" y2="546.60" stroke="#151515" stroke-width="1.1" stroke-linecap="butt"/>
<line x1="432.35" y1="555.80" x2="436.85" y2="555.80" stroke="#151515" stroke-width="1.1" stroke-linecap="butt"/>
<line x1="449.00" y1="540.90" x2="449.00" y2="550.10" stroke="#151515" stroke-width="1.1" stroke-linecap="butt"/>
<line x1="446.75" y1="540.90" x2="451.25" y2="540.90" stroke="#151515" stroke-width="1.1" stroke-linecap="butt"/>
<line x1="446.75" y1="550.10" x2="451.25" y2="550.10" stroke="#151515" stroke-width="1.1" stroke-linecap="butt"/>
<line x1="463.40" y1="532.30" x2="463.40" y2="541.50" stroke="#151515" stroke-width="1.1" stroke-linecap="butt"/>
<line x1="461.15" y1="532.30" x2="465.65" y2="532.30" stroke="#151515" stroke-width="1.1" stroke-linecap="butt"/>
<line x1="461.15" y1="541.50" x2="465.65" y2="541.50" stroke="#151515" stroke-width="1.1" stroke-linecap="butt"/>
<line x1="477.80" y1="527.20" x2="477.80" y2="536.40" stroke="#151515" stroke-width="1.1" stroke-linecap="butt"/>
<line x1="475.55" y1="527.20" x2="480.05" y2="527.20" stroke="#151515" stroke-width="1.1" stroke-linecap="butt"/>
<line x1="475.55" y1="536.40" x2="480.05" y2="536.40" stroke="#151515" stroke-width="1.1" stroke-linecap="butt"/>
<line x1="492.20" y1="521.90" x2="492.20" y2="531.10" stroke="#151515" stroke-width="1.1" stroke-linecap="butt"/>
<line x1="489.95" y1="521.90" x2="494.45" y2="521.90" stroke="#151515" stroke-width="1.1" stroke-linecap="butt"/>
<line x1="489.95" y1="531.10" x2="494.45" y2="531.10" stroke="#151515" stroke-width="1.1" stroke-linecap="butt"/>
<line x1="506.60" y1="517.30" x2="506.60" y2="526.50" stroke="#151515" stroke-width="1.1" stroke-linecap="butt"/>
<line x1="504.35" y1="517.30" x2="508.85" y2="517.30" stroke="#151515" stroke-width="1.1" stroke-linecap="butt"/>
<line x1="504.35" y1="526.50" x2="508.85" y2="526.50" stroke="#151515" stroke-width="1.1" stroke-linecap="butt"/>
<line x1="377.00" y1="579.80" x2="377.00" y2="589.00" stroke="#151515" stroke-width="1.1" stroke-linecap="butt"/>
<line x1="374.75" y1="579.80" x2="379.25" y2="579.80" stroke="#151515" stroke-width="1.1" stroke-linecap="butt"/>
<line x1="374.75" y1="589.00" x2="379.25" y2="589.00" stroke="#151515" stroke-width="1.1" stroke-linecap="butt"/>
<line x1="391.40" y1="584.60" x2="391.40" y2="593.80" stroke="#151515" stroke-width="1.1" stroke-linecap="butt"/>
<line x1="389.15" y1="584.60" x2="393.65" y2="584.60" stroke="#151515" stroke-width="1.1" stroke-linecap="butt"/>
<line x1="389.15" y1="593.80" x2="393.65" y2="593.80" stroke="#151515" stroke-width="1.1" stroke-linecap="butt"/>
<line x1="405.80" y1="582.30" x2="405.80" y2="591.50" stroke="#151515" stroke-width="1.1" stroke-linecap="butt"/>
<line x1="403.55" y1="582.30" x2="408.05" y2="582.30" stroke="#151515" stroke-width="1.1" stroke-linecap="butt"/>
<line x1="403.55" y1="591.50" x2="408.05" y2="591.50" stroke="#151515" stroke-width="1.1" stroke-linecap="butt"/>
<line x1="420.20" y1="576.20" x2="420.20" y2="585.40" stroke="#151515" stroke-width="1.1" stroke-linecap="butt"/>
<line x1="417.95" y1="576.20" x2="422.45" y2="576.20" stroke="#151515" stroke-width="1.1" stroke-linecap="butt"/>
<line x1="417.95" y1="585.40" x2="422.45" y2="585.40" stroke="#151515" stroke-width="1.1" stroke-linecap="butt"/>
<line x1="434.60" y1="569.30" x2="434.60" y2="578.50" stroke="#151515" stroke-width="1.1" stroke-linecap="butt"/>
<line x1="432.35" y1="569.30" x2="436.85" y2="569.30" stroke="#151515" stroke-width="1.1" stroke-linecap="butt"/>
<line x1="432.35" y1="578.50" x2="436.85" y2="578.50" stroke="#151515" stroke-width="1.1" stroke-linecap="butt"/>
<line x1="449.00" y1="564.60" x2="449.00" y2="573.80" stroke="#151515" stroke-width="1.1" stroke-linecap="butt"/>
<line x1="446.75" y1="564.60" x2="451.25" y2="564.60" stroke="#151515" stroke-width="1.1" stroke-linecap="butt"/>
<line x1="446.75" y1="573.80" x2="451.25" y2="573.80" stroke="#151515" stroke-width="1.1" stroke-linecap="butt"/>
<line x1="463.40" y1="561.20" x2="463.40" y2="570.40" stroke="#151515" stroke-width="1.1" stroke-linecap="butt"/>
<line x1="461.15" y1="561.20" x2="465.65" y2="561.20" stroke="#151515" stroke-width="1.1" stroke-linecap="butt"/>
<line x1="461.15" y1="570.40" x2="465.65" y2="570.40" stroke="#151515" stroke-width="1.1" stroke-linecap="butt"/>
<line x1="477.80" y1="557.70" x2="477.80" y2="566.90" stroke="#151515" stroke-width="1.1" stroke-linecap="butt"/>
<line x1="475.55" y1="557.70" x2="480.05" y2="557.70" stroke="#151515" stroke-width="1.1" stroke-linecap="butt"/>
<line x1="475.55" y1="566.90" x2="480.05" y2="566.90" stroke="#151515" stroke-width="1.1" stroke-linecap="butt"/>
<line x1="492.20" y1="555.90" x2="492.20" y2="565.10" stroke="#151515" stroke-width="1.1" stroke-linecap="butt"/>
<line x1="489.95" y1="555.90" x2="494.45" y2="555.90" stroke="#151515" stroke-width="1.1" stroke-linecap="butt"/>
<line x1="489.95" y1="565.10" x2="494.45" y2="565.10" stroke="#151515" stroke-width="1.1" stroke-linecap="butt"/>
<line x1="506.60" y1="553.60" x2="506.60" y2="562.80" stroke="#151515" stroke-width="1.1" stroke-linecap="butt"/>
<line x1="504.35" y1="553.60" x2="508.85" y2="553.60" stroke="#151515" stroke-width="1.1" stroke-linecap="butt"/>
<line x1="504.35" y1="562.80" x2="508.85" y2="562.80" stroke="#151515" stroke-width="1.1" stroke-linecap="butt"/>
<polyline points="377.00,569.40 391.40,575.60 405.80,569.60 420.20,561.20 434.60,551.20 449.00,545.50 463.40,536.90 477.80,531.80 492.20,526.50 506.60,521.90" fill="none" stroke="#000" stroke-width="1.8" stroke-linejoin="round"/>
<polyline points="377.00,584.40 391.40,589.20 405.80,586.90 420.20,580.80 434.60,573.90 449.00,569.20 463.40,565.80 477.80,562.30 492.20,560.50 506.60,558.20" fill="none" stroke="#000" stroke-width="1.8" stroke-linejoin="round"/>
<rect x="375.00" y="567.40" width="4.00" height="4.00" fill="#000"/>
<rect x="389.40" y="573.60" width="4.00" height="4.00" fill="#000"/>
<rect x="403.80" y="567.60" width="4.00" height="4.00" fill="#000"/>
<rect x="418.20" y="559.20" width="4.00" height="4.00" fill="#000"/>
<rect x="432.60" y="549.20" width="4.00" height="4.00" fill="#000"/>
<rect x="447.00" y="543.50" width="4.00" height="4.00" fill="#000"/>
<rect x="461.40" y="534.90" width="4.00" height="4.00" fill="#000"/>
<rect x="475.80" y="529.80" width="4.00" height="4.00" fill="#000"/>
<rect x="490.20" y="524.50" width="4.00" height="4.00" fill="#000"/>
<rect x="504.60" y="519.90" width="4.00" height="4.00" fill="#000"/>
<circle cx="377.00" cy="584.40" r="1.70" fill="#fff" stroke="#000" stroke-width="1.1"/>
<circle cx="391.40" cy="589.20" r="1.70" fill="#fff" stroke="#000" stroke-width="1.1"/>
<circle cx="405.80" cy="586.90" r="1.70" fill="#fff" stroke="#000" stroke-width="1.1"/>
<circle cx="420.20" cy="580.80" r="1.70" fill="#fff" stroke="#000" stroke-width="1.1"/>
<circle cx="434.60" cy="573.90" r="1.70" fill="#fff" stroke="#000" stroke-width="1.1"/>
<circle cx="449.00" cy="569.20" r="1.70" fill="#fff" stroke="#000" stroke-width="1.1"/>
<circle cx="463.40" cy="565.80" r="1.70" fill="#fff" stroke="#000" stroke-width="1.1"/>
<circle cx="477.80" cy="562.30" r="1.70" fill="#fff" stroke="#000" stroke-width="1.1"/>
<circle cx="492.20" cy="560.50" r="1.70" fill="#fff" stroke="#000" stroke-width="1.1"/>
<circle cx="506.60" cy="558.20" r="1.70" fill="#fff" stroke="#000" stroke-width="1.1"/>
</svg></body></html>
